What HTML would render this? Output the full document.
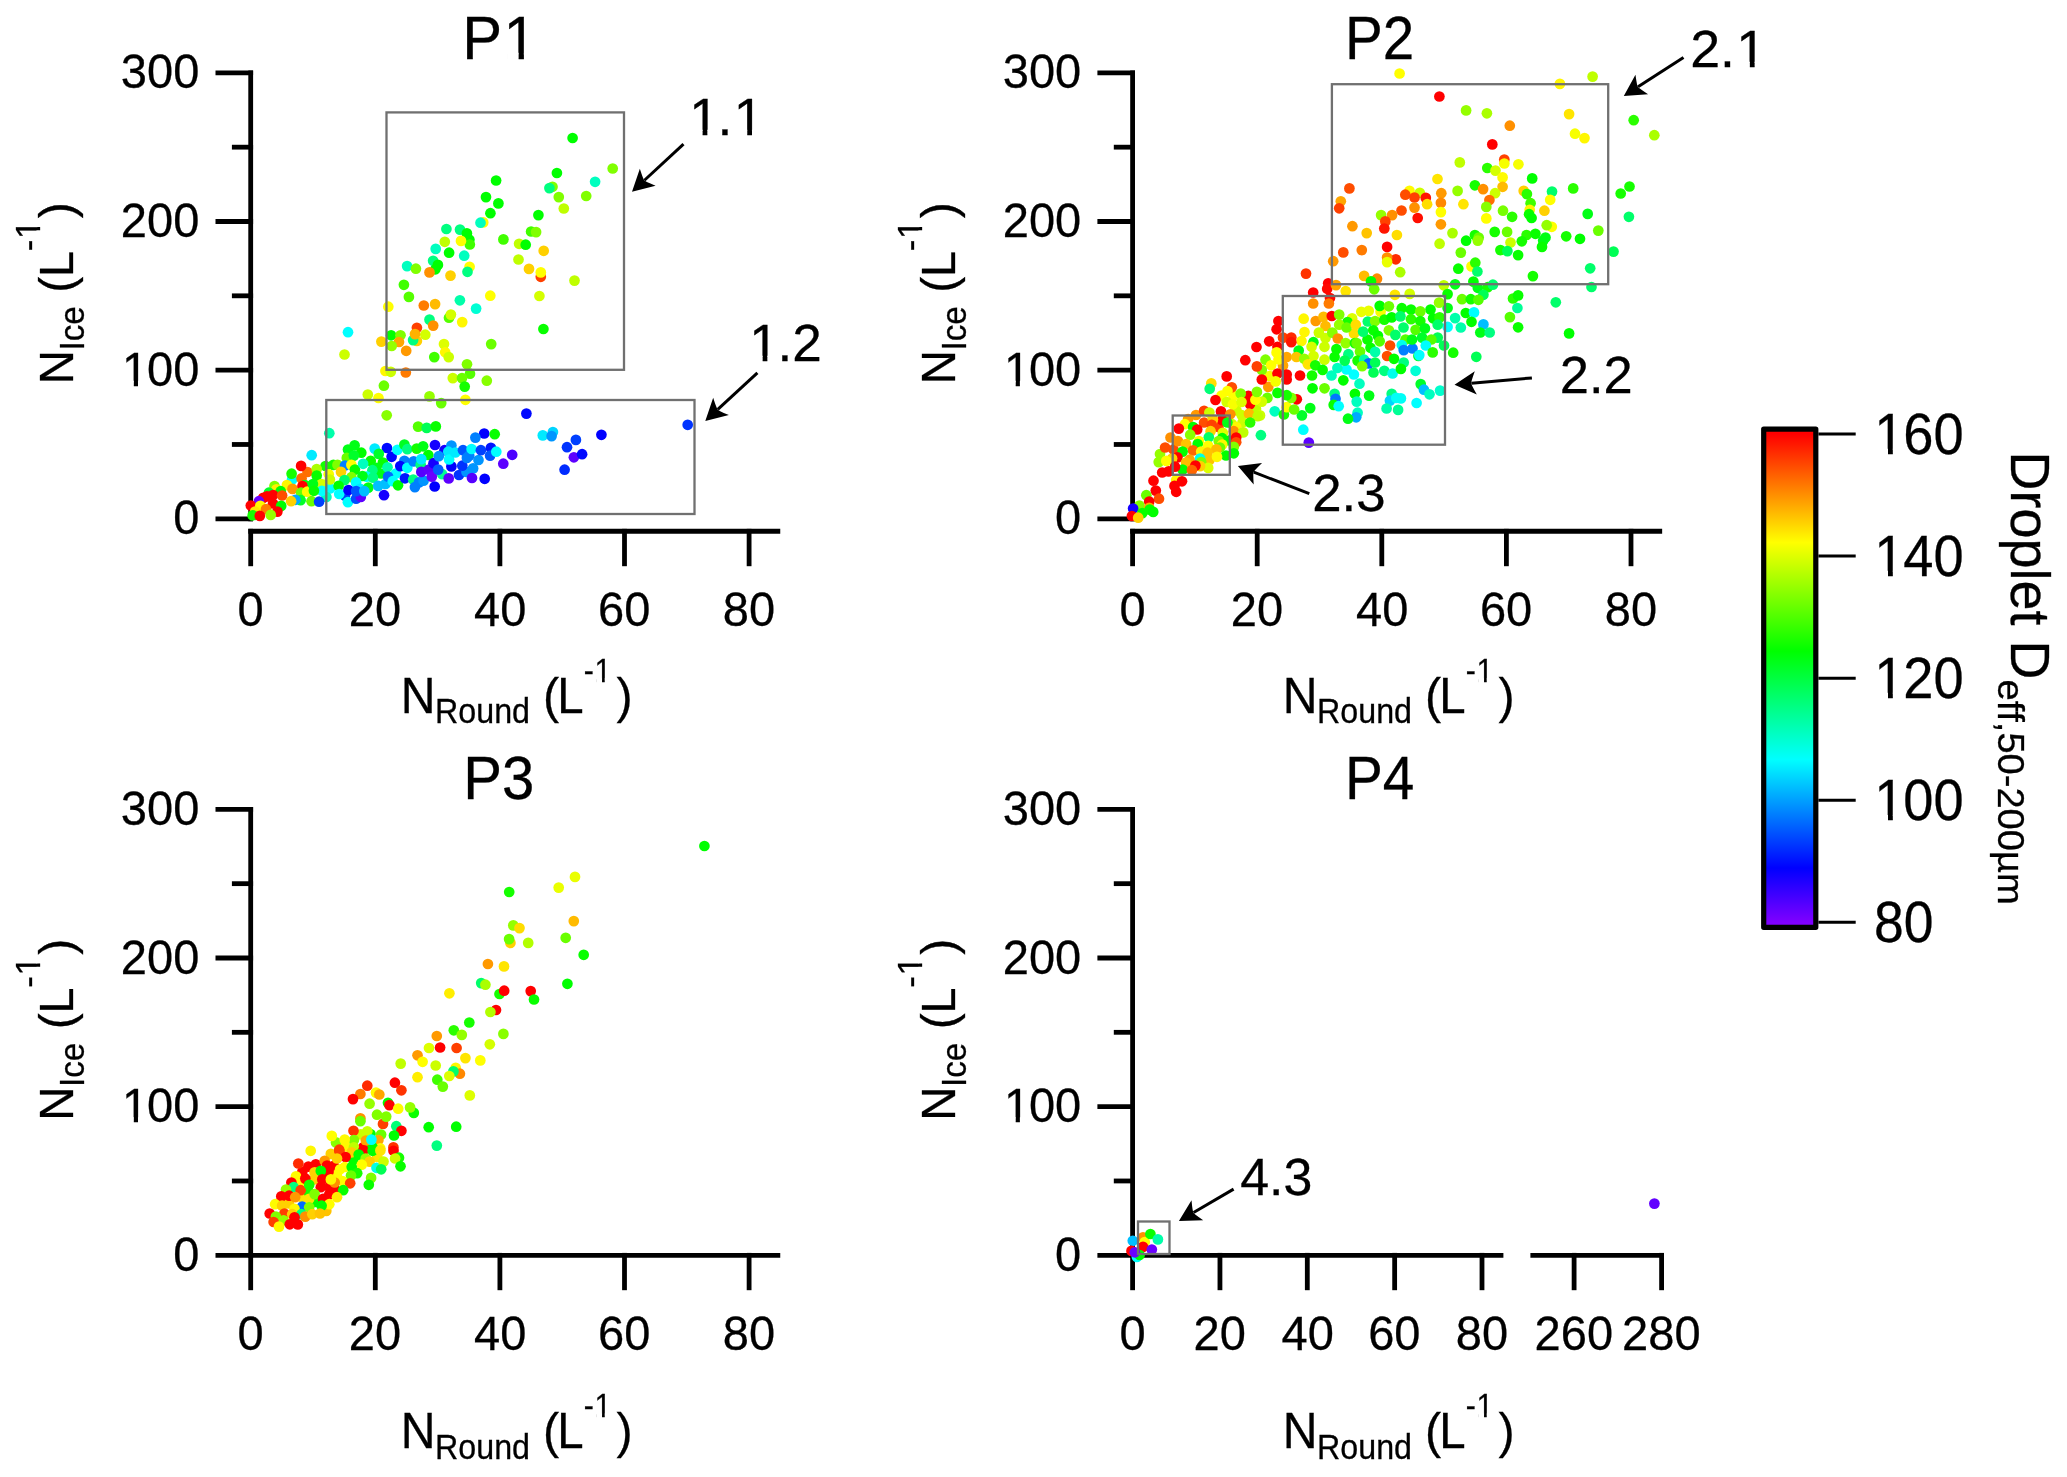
<!DOCTYPE html>
<html><head><meta charset="utf-8"><title>Figure</title>
<style>html,body{margin:0;padding:0;background:#fff;overflow:hidden;} svg{display:block;} svg{will-change:transform;} text{stroke:#000;stroke-width:0.3px;}</style>
</head><body>
<svg width="2067" height="1477" viewBox="0 0 2067 1477" font-family="'Liberation Sans', Arial, sans-serif" fill="#000" style="font-kerning:none"><line x1="250.70" y1="70.45" x2="250.70" y2="521.20" stroke="#000" stroke-width="4.8"/>
<line x1="215.50" y1="518.80" x2="253.10" y2="518.80" stroke="#000" stroke-width="4.8"/>
<text transform="translate(173.18,534.40) scale(0.9800,1)" font-size="48.00">0</text>
<line x1="215.50" y1="370.15" x2="253.10" y2="370.15" stroke="#000" stroke-width="4.8"/>
<clipPath id="c1_1"><path clip-rule="evenodd" d="M-5000,-5000H20000V5000H-5000ZM3.98,-4.89H13.24V4H3.98ZM17.48,-4.89H26.48V4H17.48Z"/></clipPath>
<text transform="translate(120.85,385.75) scale(0.9800,1)" font-size="48.00" clip-path="url(#c1_1)" dx="1.17 -1.17 0.00">100</text>
<line x1="215.50" y1="221.50" x2="253.10" y2="221.50" stroke="#000" stroke-width="4.8"/>
<text transform="translate(120.85,237.10) scale(0.9800,1)" font-size="48.00">200</text>
<line x1="215.50" y1="72.85" x2="253.10" y2="72.85" stroke="#000" stroke-width="4.8"/>
<text transform="translate(120.85,88.45) scale(0.9800,1)" font-size="48.00">300</text>
<line x1="231.90" y1="444.47" x2="253.10" y2="444.47" stroke="#000" stroke-width="4.8"/>
<line x1="231.90" y1="295.82" x2="253.10" y2="295.82" stroke="#000" stroke-width="4.8"/>
<line x1="231.90" y1="147.17" x2="253.10" y2="147.17" stroke="#000" stroke-width="4.8"/>
<line x1="1132.60" y1="70.45" x2="1132.60" y2="521.20" stroke="#000" stroke-width="4.8"/>
<line x1="1097.40" y1="518.80" x2="1135.00" y2="518.80" stroke="#000" stroke-width="4.8"/>
<text transform="translate(1055.08,534.40) scale(0.9800,1)" font-size="48.00">0</text>
<line x1="1097.40" y1="370.15" x2="1135.00" y2="370.15" stroke="#000" stroke-width="4.8"/>
<clipPath id="c1_2"><path clip-rule="evenodd" d="M-5000,-5000H20000V5000H-5000ZM3.98,-4.89H13.24V4H3.98ZM17.48,-4.89H26.48V4H17.48Z"/></clipPath>
<text transform="translate(1002.75,385.75) scale(0.9800,1)" font-size="48.00" clip-path="url(#c1_2)" dx="1.17 -1.17 0.00">100</text>
<line x1="1097.40" y1="221.50" x2="1135.00" y2="221.50" stroke="#000" stroke-width="4.8"/>
<text transform="translate(1002.75,237.10) scale(0.9800,1)" font-size="48.00">200</text>
<line x1="1097.40" y1="72.85" x2="1135.00" y2="72.85" stroke="#000" stroke-width="4.8"/>
<text transform="translate(1002.75,88.45) scale(0.9800,1)" font-size="48.00">300</text>
<line x1="1113.80" y1="444.47" x2="1135.00" y2="444.47" stroke="#000" stroke-width="4.8"/>
<line x1="1113.80" y1="295.82" x2="1135.00" y2="295.82" stroke="#000" stroke-width="4.8"/>
<line x1="1113.80" y1="147.17" x2="1135.00" y2="147.17" stroke="#000" stroke-width="4.8"/>
<line x1="250.70" y1="806.95" x2="250.70" y2="1257.70" stroke="#000" stroke-width="4.8"/>
<line x1="215.50" y1="1255.30" x2="253.10" y2="1255.30" stroke="#000" stroke-width="4.8"/>
<text transform="translate(173.18,1270.90) scale(0.9800,1)" font-size="48.00">0</text>
<line x1="215.50" y1="1106.65" x2="253.10" y2="1106.65" stroke="#000" stroke-width="4.8"/>
<clipPath id="c1_3"><path clip-rule="evenodd" d="M-5000,-5000H20000V5000H-5000ZM3.98,-4.89H13.24V4H3.98ZM17.48,-4.89H26.48V4H17.48Z"/></clipPath>
<text transform="translate(120.85,1122.25) scale(0.9800,1)" font-size="48.00" clip-path="url(#c1_3)" dx="1.17 -1.17 0.00">100</text>
<line x1="215.50" y1="958.00" x2="253.10" y2="958.00" stroke="#000" stroke-width="4.8"/>
<text transform="translate(120.85,973.60) scale(0.9800,1)" font-size="48.00">200</text>
<line x1="215.50" y1="809.35" x2="253.10" y2="809.35" stroke="#000" stroke-width="4.8"/>
<text transform="translate(120.85,824.95) scale(0.9800,1)" font-size="48.00">300</text>
<line x1="231.90" y1="1180.97" x2="253.10" y2="1180.97" stroke="#000" stroke-width="4.8"/>
<line x1="231.90" y1="1032.32" x2="253.10" y2="1032.32" stroke="#000" stroke-width="4.8"/>
<line x1="231.90" y1="883.67" x2="253.10" y2="883.67" stroke="#000" stroke-width="4.8"/>
<line x1="1132.60" y1="806.95" x2="1132.60" y2="1257.70" stroke="#000" stroke-width="4.8"/>
<line x1="1097.40" y1="1255.30" x2="1135.00" y2="1255.30" stroke="#000" stroke-width="4.8"/>
<text transform="translate(1055.08,1270.90) scale(0.9800,1)" font-size="48.00">0</text>
<line x1="1097.40" y1="1106.65" x2="1135.00" y2="1106.65" stroke="#000" stroke-width="4.8"/>
<clipPath id="c1_4"><path clip-rule="evenodd" d="M-5000,-5000H20000V5000H-5000ZM3.98,-4.89H13.24V4H3.98ZM17.48,-4.89H26.48V4H17.48Z"/></clipPath>
<text transform="translate(1002.75,1122.25) scale(0.9800,1)" font-size="48.00" clip-path="url(#c1_4)" dx="1.17 -1.17 0.00">100</text>
<line x1="1097.40" y1="958.00" x2="1135.00" y2="958.00" stroke="#000" stroke-width="4.8"/>
<text transform="translate(1002.75,973.60) scale(0.9800,1)" font-size="48.00">200</text>
<line x1="1097.40" y1="809.35" x2="1135.00" y2="809.35" stroke="#000" stroke-width="4.8"/>
<text transform="translate(1002.75,824.95) scale(0.9800,1)" font-size="48.00">300</text>
<line x1="1113.80" y1="1180.97" x2="1135.00" y2="1180.97" stroke="#000" stroke-width="4.8"/>
<line x1="1113.80" y1="1032.32" x2="1135.00" y2="1032.32" stroke="#000" stroke-width="4.8"/>
<line x1="1113.80" y1="883.67" x2="1135.00" y2="883.67" stroke="#000" stroke-width="4.8"/>
<text transform="translate(72.80,384.28) rotate(-90) scale(0.9645,1)" font-size="49.00">N</text>
<text transform="translate(84.20,350.58) rotate(-90) scale(0.9688,1)" font-size="34.40">Ice</text>
<text transform="translate(72.80,292.68) rotate(-90) scale(0.9800,1)" font-size="49.00">(</text>
<text transform="translate(72.80,276.93) rotate(-90) scale(0.9535,1)" font-size="49.00">L</text>
<clipPath id="c1_5"><path clip-rule="evenodd" d="M-5000,-5000H20000V5000H-5000ZM14.31,-3.87H20.95V4H14.31ZM23.99,-3.87H30.44V4H23.99Z"/></clipPath>
<text transform="translate(40.40,251.35) rotate(-90) scale(1.0108,1)" font-size="34.40" clip-path="url(#c1_5)" dx="0.00 0.84">-1</text>
<text transform="translate(72.80,218.18) rotate(-90) scale(0.9800,1)" font-size="49.00">)</text>
<text transform="translate(954.70,384.28) rotate(-90) scale(0.9645,1)" font-size="49.00">N</text>
<text transform="translate(966.10,350.58) rotate(-90) scale(0.9688,1)" font-size="34.40">Ice</text>
<text transform="translate(954.70,292.68) rotate(-90) scale(0.9800,1)" font-size="49.00">(</text>
<text transform="translate(954.70,276.93) rotate(-90) scale(0.9535,1)" font-size="49.00">L</text>
<clipPath id="c1_6"><path clip-rule="evenodd" d="M-5000,-5000H20000V5000H-5000ZM14.31,-3.87H20.95V4H14.31ZM23.99,-3.87H30.44V4H23.99Z"/></clipPath>
<text transform="translate(922.30,251.35) rotate(-90) scale(1.0108,1)" font-size="34.40" clip-path="url(#c1_6)" dx="0.00 0.84">-1</text>
<text transform="translate(954.70,218.18) rotate(-90) scale(0.9800,1)" font-size="49.00">)</text>
<text transform="translate(72.80,1120.78) rotate(-90) scale(0.9645,1)" font-size="49.00">N</text>
<text transform="translate(84.20,1087.08) rotate(-90) scale(0.9688,1)" font-size="34.40">Ice</text>
<text transform="translate(72.80,1029.18) rotate(-90) scale(0.9800,1)" font-size="49.00">(</text>
<text transform="translate(72.80,1013.43) rotate(-90) scale(0.9535,1)" font-size="49.00">L</text>
<clipPath id="c1_7"><path clip-rule="evenodd" d="M-5000,-5000H20000V5000H-5000ZM14.31,-3.87H20.95V4H14.31ZM23.99,-3.87H30.44V4H23.99Z"/></clipPath>
<text transform="translate(40.40,987.85) rotate(-90) scale(1.0108,1)" font-size="34.40" clip-path="url(#c1_7)" dx="0.00 0.84">-1</text>
<text transform="translate(72.80,954.68) rotate(-90) scale(0.9800,1)" font-size="49.00">)</text>
<text transform="translate(954.70,1120.78) rotate(-90) scale(0.9645,1)" font-size="49.00">N</text>
<text transform="translate(966.10,1087.08) rotate(-90) scale(0.9688,1)" font-size="34.40">Ice</text>
<text transform="translate(954.70,1029.18) rotate(-90) scale(0.9800,1)" font-size="49.00">(</text>
<text transform="translate(954.70,1013.43) rotate(-90) scale(0.9535,1)" font-size="49.00">L</text>
<clipPath id="c1_8"><path clip-rule="evenodd" d="M-5000,-5000H20000V5000H-5000ZM14.31,-3.87H20.95V4H14.31ZM23.99,-3.87H30.44V4H23.99Z"/></clipPath>
<text transform="translate(922.30,987.85) rotate(-90) scale(1.0108,1)" font-size="34.40" clip-path="url(#c1_8)" dx="0.00 0.84">-1</text>
<text transform="translate(954.70,954.68) rotate(-90) scale(0.9800,1)" font-size="49.00">)</text>
<clipPath id="c1_9"><path clip-rule="evenodd" d="M-5000,-5000H20000V5000H-5000ZM45.67,-5.85H57.42V4H45.67ZM62.80,-5.85H74.22V4H62.80Z"/></clipPath>
<text transform="translate(462.30,58.50) scale(0.9808,1)" font-size="60.90" clip-path="url(#c1_9)" dx="0.00 1.49">P1</text>
<text transform="translate(1344.96,58.50) scale(0.9288,1)" font-size="60.90">P2</text>
<text transform="translate(463.34,798.80) scale(0.9533,1)" font-size="60.90">P3</text>
<text transform="translate(1344.94,798.80) scale(0.9319,1)" font-size="60.90">P4</text>
<line x1="248.30" y1="531.25" x2="780.25" y2="531.25" stroke="#000" stroke-width="4.8"/>
<line x1="250.70" y1="528.85" x2="250.70" y2="566.20" stroke="#000" stroke-width="4.8"/>
<text transform="translate(237.62,626.10) scale(0.9800,1)" font-size="48.00">0</text>
<line x1="375.30" y1="528.85" x2="375.30" y2="566.20" stroke="#000" stroke-width="4.8"/>
<text transform="translate(348.87,626.10) scale(0.9800,1)" font-size="48.00">20</text>
<line x1="499.90" y1="528.85" x2="499.90" y2="566.20" stroke="#000" stroke-width="4.8"/>
<text transform="translate(474.12,626.10) scale(0.9800,1)" font-size="48.00">40</text>
<line x1="624.50" y1="528.85" x2="624.50" y2="566.20" stroke="#000" stroke-width="4.8"/>
<text transform="translate(598.06,626.10) scale(0.9800,1)" font-size="48.00">60</text>
<line x1="749.10" y1="528.85" x2="749.10" y2="566.20" stroke="#000" stroke-width="4.8"/>
<text transform="translate(722.84,626.10) scale(0.9800,1)" font-size="48.00">80</text>
<line x1="1130.20" y1="531.25" x2="1662.15" y2="531.25" stroke="#000" stroke-width="4.8"/>
<line x1="1132.60" y1="528.85" x2="1132.60" y2="566.20" stroke="#000" stroke-width="4.8"/>
<text transform="translate(1119.52,626.10) scale(0.9800,1)" font-size="48.00">0</text>
<line x1="1257.20" y1="528.85" x2="1257.20" y2="566.20" stroke="#000" stroke-width="4.8"/>
<text transform="translate(1230.77,626.10) scale(0.9800,1)" font-size="48.00">20</text>
<line x1="1381.80" y1="528.85" x2="1381.80" y2="566.20" stroke="#000" stroke-width="4.8"/>
<text transform="translate(1356.02,626.10) scale(0.9800,1)" font-size="48.00">40</text>
<line x1="1506.40" y1="528.85" x2="1506.40" y2="566.20" stroke="#000" stroke-width="4.8"/>
<text transform="translate(1479.96,626.10) scale(0.9800,1)" font-size="48.00">60</text>
<line x1="1631.00" y1="528.85" x2="1631.00" y2="566.20" stroke="#000" stroke-width="4.8"/>
<text transform="translate(1604.74,626.10) scale(0.9800,1)" font-size="48.00">80</text>
<text transform="translate(400.85,712.60) scale(0.9748,1)" font-size="49.40">N</text>
<text transform="translate(435.06,723.30) scale(0.9364,1)" font-size="34.40">Round</text>
<text transform="translate(543.00,712.60) scale(0.9800,1)" font-size="49.40">(</text>
<text transform="translate(557.21,712.60) scale(0.9595,1)" font-size="49.40">L</text>
<clipPath id="c1_10"><path clip-rule="evenodd" d="M-5000,-5000H20000V5000H-5000ZM13.89,-3.80H20.34V4H13.89ZM23.29,-3.80H29.55V4H23.29Z"/></clipPath>
<text transform="translate(583.66,682.00) scale(0.9035,1)" font-size="33.40" clip-path="url(#c1_10)" dx="0.00 0.82">-1</text>
<text transform="translate(616.52,712.60) scale(0.9800,1)" font-size="49.40">)</text>
<text transform="translate(1282.85,712.60) scale(0.9748,1)" font-size="49.40">N</text>
<text transform="translate(1317.06,723.30) scale(0.9364,1)" font-size="34.40">Round</text>
<text transform="translate(1425.00,712.60) scale(0.9800,1)" font-size="49.40">(</text>
<text transform="translate(1439.21,712.60) scale(0.9595,1)" font-size="49.40">L</text>
<clipPath id="c1_11"><path clip-rule="evenodd" d="M-5000,-5000H20000V5000H-5000ZM13.89,-3.80H20.34V4H13.89ZM23.29,-3.80H29.55V4H23.29Z"/></clipPath>
<text transform="translate(1465.66,682.00) scale(0.9035,1)" font-size="33.40" clip-path="url(#c1_11)" dx="0.00 0.82">-1</text>
<text transform="translate(1498.52,712.60) scale(0.9800,1)" font-size="49.40">)</text>
<line x1="248.30" y1="1255.30" x2="780.25" y2="1255.30" stroke="#000" stroke-width="4.8"/>
<line x1="250.70" y1="1252.90" x2="250.70" y2="1290.20" stroke="#000" stroke-width="4.8"/>
<text transform="translate(237.62,1350.20) scale(0.9800,1)" font-size="48.00">0</text>
<line x1="375.30" y1="1252.90" x2="375.30" y2="1290.20" stroke="#000" stroke-width="4.8"/>
<text transform="translate(348.87,1350.20) scale(0.9800,1)" font-size="48.00">20</text>
<line x1="499.90" y1="1252.90" x2="499.90" y2="1290.20" stroke="#000" stroke-width="4.8"/>
<text transform="translate(474.12,1350.20) scale(0.9800,1)" font-size="48.00">40</text>
<line x1="624.50" y1="1252.90" x2="624.50" y2="1290.20" stroke="#000" stroke-width="4.8"/>
<text transform="translate(598.06,1350.20) scale(0.9800,1)" font-size="48.00">60</text>
<line x1="749.10" y1="1252.90" x2="749.10" y2="1290.20" stroke="#000" stroke-width="4.8"/>
<text transform="translate(722.84,1350.20) scale(0.9800,1)" font-size="48.00">80</text>
<text transform="translate(400.85,1447.80) scale(0.9748,1)" font-size="49.40">N</text>
<text transform="translate(435.06,1458.50) scale(0.9364,1)" font-size="34.40">Round</text>
<text transform="translate(543.00,1447.80) scale(0.9800,1)" font-size="49.40">(</text>
<text transform="translate(557.21,1447.80) scale(0.9595,1)" font-size="49.40">L</text>
<clipPath id="c1_12"><path clip-rule="evenodd" d="M-5000,-5000H20000V5000H-5000ZM13.89,-3.80H20.34V4H13.89ZM23.29,-3.80H29.55V4H23.29Z"/></clipPath>
<text transform="translate(583.66,1417.20) scale(0.9035,1)" font-size="33.40" clip-path="url(#c1_12)" dx="0.00 0.82">-1</text>
<text transform="translate(616.52,1447.80) scale(0.9800,1)" font-size="49.40">)</text>
<line x1="1130.20" y1="1255.30" x2="1503.40" y2="1255.30" stroke="#000" stroke-width="4.8"/>
<line x1="1132.60" y1="1252.90" x2="1132.60" y2="1290.20" stroke="#000" stroke-width="4.8"/>
<text transform="translate(1119.52,1350.20) scale(0.9800,1)" font-size="48.00">0</text>
<line x1="1219.95" y1="1252.90" x2="1219.95" y2="1290.20" stroke="#000" stroke-width="4.8"/>
<text transform="translate(1193.52,1350.20) scale(0.9800,1)" font-size="48.00">20</text>
<line x1="1307.30" y1="1252.90" x2="1307.30" y2="1290.20" stroke="#000" stroke-width="4.8"/>
<text transform="translate(1281.52,1350.20) scale(0.9800,1)" font-size="48.00">40</text>
<line x1="1394.65" y1="1252.90" x2="1394.65" y2="1290.20" stroke="#000" stroke-width="4.8"/>
<text transform="translate(1368.21,1350.20) scale(0.9800,1)" font-size="48.00">60</text>
<line x1="1482.00" y1="1252.90" x2="1482.00" y2="1290.20" stroke="#000" stroke-width="4.8"/>
<text transform="translate(1455.74,1350.20) scale(0.9800,1)" font-size="48.00">80</text>
<line x1="1530.40" y1="1255.30" x2="1664.00" y2="1255.30" stroke="#000" stroke-width="4.8"/>
<line x1="1574.10" y1="1252.90" x2="1574.10" y2="1290.20" stroke="#000" stroke-width="4.8"/>
<text transform="translate(1534.59,1350.20) scale(0.9800,1)" font-size="48.00">260</text>
<line x1="1661.60" y1="1252.90" x2="1661.60" y2="1290.20" stroke="#000" stroke-width="4.8"/>
<text transform="translate(1622.09,1350.20) scale(0.9800,1)" font-size="48.00">280</text>
<text transform="translate(1282.85,1447.80) scale(0.9748,1)" font-size="49.40">N</text>
<text transform="translate(1317.06,1458.50) scale(0.9364,1)" font-size="34.40">Round</text>
<text transform="translate(1425.00,1447.80) scale(0.9800,1)" font-size="49.40">(</text>
<text transform="translate(1439.21,1447.80) scale(0.9595,1)" font-size="49.40">L</text>
<clipPath id="c1_13"><path clip-rule="evenodd" d="M-5000,-5000H20000V5000H-5000ZM13.89,-3.80H20.34V4H13.89ZM23.29,-3.80H29.55V4H23.29Z"/></clipPath>
<text transform="translate(1465.66,1417.20) scale(0.9035,1)" font-size="33.40" clip-path="url(#c1_13)" dx="0.00 0.82">-1</text>
<text transform="translate(1498.52,1447.80) scale(0.9800,1)" font-size="49.40">)</text>
<line x1="683.50" y1="144.20" x2="644.48" y2="180.26" stroke="#000" stroke-width="3.0"/>
<path d="M632.00,191.80 L639.84,168.76 Q643.75,180.94 644.48,180.26 Q643.75,180.94 655.59,185.79 Z" fill="#000"/>
<line x1="757.40" y1="372.90" x2="717.80" y2="409.38" stroke="#000" stroke-width="3.0"/>
<path d="M705.30,420.90 L713.18,397.87 Q717.07,410.06 717.80,409.38 Q717.07,410.06 728.90,414.93 Z" fill="#000"/>
<line x1="1683.50" y1="57.40" x2="1638.06" y2="86.85" stroke="#000" stroke-width="3.0"/>
<path d="M1623.80,96.10 L1635.45,74.73 Q1637.23,87.40 1638.06,86.85 Q1637.23,87.40 1648.07,94.19 Z" fill="#000"/>
<line x1="1531.90" y1="377.90" x2="1471.43" y2="383.21" stroke="#000" stroke-width="3.0"/>
<path d="M1454.50,384.70 L1474.80,371.27 Q1470.44,383.30 1471.43,383.21 Q1470.44,383.30 1476.83,394.38 Z" fill="#000"/>
<line x1="1309.30" y1="493.60" x2="1253.76" y2="472.21" stroke="#000" stroke-width="3.0"/>
<path d="M1237.90,466.10 L1262.04,462.97 Q1252.83,471.85 1253.76,472.21 Q1252.83,471.85 1253.70,484.62 Z" fill="#000"/>
<line x1="1233.60" y1="1189.10" x2="1193.57" y2="1212.52" stroke="#000" stroke-width="3.0"/>
<path d="M1178.90,1221.10 L1191.51,1200.28 Q1192.71,1213.02 1193.57,1212.52 Q1192.71,1213.02 1203.23,1220.31 Z" fill="#000"/>
<clipPath id="c1_14"><path clip-rule="evenodd" d="M-5000,-5000H20000V5000H-5000ZM4.31,-5.18H14.32V4H4.31ZM18.90,-5.18H28.64V4H18.90ZM47.59,-5.18H57.60V4H47.59ZM62.19,-5.18H71.92V4H62.19Z"/></clipPath>
<text transform="translate(687.84,134.90) scale(1.0317,1)" font-size="51.90" clip-path="url(#c1_14)" dx="1.27 -1.27 1.27">1.1</text>
<clipPath id="c1_15"><path clip-rule="evenodd" d="M-5000,-5000H20000V5000H-5000ZM4.31,-5.18H14.32V4H4.31ZM18.90,-5.18H28.64V4H18.90Z"/></clipPath>
<text transform="translate(747.99,361.00) scale(1.0240,1)" font-size="51.90" clip-path="url(#c1_15)" dx="1.27 -1.27 0.00">1.2</text>
<clipPath id="c1_16"><path clip-rule="evenodd" d="M-5000,-5000H20000V5000H-5000ZM47.59,-5.18H57.60V4H47.59ZM62.19,-5.18H71.92V4H62.19Z"/></clipPath>
<text transform="translate(1690.20,66.90) scale(1.0356,1)" font-size="51.90" clip-path="url(#c1_16)" dx="0.00 0.00 1.27">2.1</text>
<text transform="translate(1559.76,392.50) scale(1.0115,1)" font-size="51.90">2.2</text>
<text transform="translate(1312.25,511.30) scale(1.0170,1)" font-size="51.90">2.3</text>
<text transform="translate(1240.21,1195.00) scale(1.0003,1)" font-size="51.90">4.3</text>
<defs><linearGradient id="cb" gradientUnits="userSpaceOnUse" x1="0" y1="434" x2="0" y2="922.3"><stop offset="0.0000" stop-color="rgb(255,0,0)"/><stop offset="0.2222" stop-color="rgb(255,255,0)"/><stop offset="0.4444" stop-color="rgb(0,255,0)"/><stop offset="0.6667" stop-color="rgb(0,255,255)"/><stop offset="0.8889" stop-color="rgb(0,0,255)"/><stop offset="1.0000" stop-color="rgb(127,0,255)"/></linearGradient></defs>
<rect x="1763.70" y="429.10" width="52.10" height="498.20" fill="url(#cb)" stroke="#000" stroke-width="5.2" stroke-linejoin="round"/>
<line x1="1818.40" y1="434.00" x2="1855.70" y2="434.00" stroke="#000" stroke-width="3.0"/>
<clipPath id="c1_17"><path clip-rule="evenodd" d="M-5000,-5000H20000V5000H-5000ZM4.70,-5.53H15.61V4H4.70ZM20.62,-5.53H31.23V4H20.62Z"/></clipPath>
<text transform="translate(1873.06,454.20) scale(0.9579,1)" font-size="56.60" clip-path="url(#c1_17)" dx="1.38 -1.38 0.00">160</text>
<line x1="1818.40" y1="556.07" x2="1855.70" y2="556.07" stroke="#000" stroke-width="3.0"/>
<clipPath id="c1_18"><path clip-rule="evenodd" d="M-5000,-5000H20000V5000H-5000ZM4.70,-5.53H15.61V4H4.70ZM20.62,-5.53H31.23V4H20.62Z"/></clipPath>
<text transform="translate(1873.06,576.27) scale(0.9579,1)" font-size="56.60" clip-path="url(#c1_18)" dx="1.38 -1.38 0.00">140</text>
<line x1="1818.40" y1="678.14" x2="1855.70" y2="678.14" stroke="#000" stroke-width="3.0"/>
<clipPath id="c1_19"><path clip-rule="evenodd" d="M-5000,-5000H20000V5000H-5000ZM4.70,-5.53H15.61V4H4.70ZM20.62,-5.53H31.23V4H20.62Z"/></clipPath>
<text transform="translate(1873.06,698.34) scale(0.9579,1)" font-size="56.60" clip-path="url(#c1_19)" dx="1.38 -1.38 0.00">120</text>
<line x1="1818.40" y1="800.21" x2="1855.70" y2="800.21" stroke="#000" stroke-width="3.0"/>
<clipPath id="c1_20"><path clip-rule="evenodd" d="M-5000,-5000H20000V5000H-5000ZM4.70,-5.53H15.61V4H4.70ZM20.62,-5.53H31.23V4H20.62Z"/></clipPath>
<text transform="translate(1873.06,820.41) scale(0.9579,1)" font-size="56.60" clip-path="url(#c1_20)" dx="1.38 -1.38 0.00">100</text>
<line x1="1818.40" y1="922.28" x2="1855.70" y2="922.28" stroke="#000" stroke-width="3.0"/>
<text transform="translate(1873.97,942.48) scale(0.9453,1)" font-size="56.60">80</text>
<text transform="translate(2010.80,451.47) rotate(90) scale(0.9798,1)" font-size="55.10">Droplet D</text>
<text transform="translate(1997.60,679.48) rotate(90) scale(1.0131,1)" font-size="37.60">eff,50-200µm</text>
<g><circle cx="435.0" cy="445.0" r="5.35" fill="#1500ff"/><circle cx="478.5" cy="460.0" r="5.35" fill="#0095ff"/><circle cx="387.0" cy="448.0" r="5.35" fill="#0008ff"/><circle cx="459.0" cy="475.0" r="5.35" fill="#0033ff"/><circle cx="307.5" cy="472.0" r="5.35" fill="#ff6e00"/><circle cx="273.0" cy="503.5" r="5.35" fill="#ff0000"/><circle cx="330.0" cy="488.5" r="5.35" fill="#00ffff"/><circle cx="396.0" cy="473.5" r="5.35" fill="#00ffff"/><circle cx="325.5" cy="466.0" r="5.35" fill="#15ff00"/><circle cx="348.0" cy="449.5" r="5.35" fill="#00ff15"/><circle cx="381.0" cy="473.5" r="5.35" fill="#00ff15"/><circle cx="385.5" cy="484.0" r="5.35" fill="#00bfff"/><circle cx="466.5" cy="472.0" r="5.35" fill="#0095ff"/><circle cx="1283.0" cy="365.5" r="5.35" fill="#ffa600"/><circle cx="1196.0" cy="415.0" r="5.35" fill="#ff9900"/><circle cx="1173.5" cy="449.5" r="5.35" fill="#ff4d00"/><circle cx="1170.5" cy="437.5" r="5.35" fill="#ff9000"/><circle cx="1269.5" cy="376.0" r="5.35" fill="#f7ff00"/><circle cx="1160.0" cy="454.0" r="5.35" fill="#95ff00"/><circle cx="1226.0" cy="455.5" r="5.35" fill="#00ff00"/><circle cx="1209.5" cy="460.0" r="5.35" fill="#ffc300"/><circle cx="1221.5" cy="395.5" r="5.35" fill="#ffff00"/><circle cx="1233.5" cy="395.5" r="5.35" fill="#ffff00"/><circle cx="1278.5" cy="359.5" r="5.35" fill="#ffff00"/><circle cx="1242.5" cy="422.5" r="5.35" fill="#ccff00"/><circle cx="1256.0" cy="409.0" r="5.35" fill="#bfff00"/><circle cx="1229.0" cy="440.5" r="5.35" fill="#00ff00"/><circle cx="1218.5" cy="427.0" r="5.35" fill="#ff4000"/><circle cx="1236.5" cy="410.5" r="5.35" fill="#ccff00"/><circle cx="297.8" cy="1224.4" r="5.35" fill="#ff0000"/><circle cx="315.8" cy="1164.4" r="5.35" fill="#ff0000"/><circle cx="330.8" cy="1153.9" r="5.35" fill="#ffd000"/><circle cx="302.3" cy="1171.9" r="5.35" fill="#ff0000"/><circle cx="353.3" cy="1159.9" r="5.35" fill="#00ff00"/><circle cx="360.8" cy="1134.4" r="5.35" fill="#ccff00"/><circle cx="377.3" cy="1156.9" r="5.35" fill="#ffe500"/><circle cx="329.3" cy="1194.4" r="5.35" fill="#ff0000"/><circle cx="288.8" cy="1203.4" r="5.35" fill="#ffd000"/><circle cx="302.3" cy="1197.4" r="5.35" fill="#ffe500"/><circle cx="314.3" cy="1179.4" r="5.35" fill="#ffd000"/><circle cx="299.3" cy="1182.4" r="5.35" fill="#fffb00"/><circle cx="315.8" cy="1201.9" r="5.35" fill="#00ff00"/><circle cx="345.8" cy="1146.4" r="5.35" fill="#fffb00"/><circle cx="326.3" cy="1210.9" r="5.35" fill="#ffc300"/><circle cx="333.8" cy="1165.9" r="5.35" fill="#ff0000"/><circle cx="308.3" cy="1191.4" r="5.35" fill="#15ff00"/><circle cx="335.3" cy="1189.9" r="5.35" fill="#ff0000"/><circle cx="336.8" cy="1174.9" r="5.35" fill="#ffff00"/><circle cx="1300.0" cy="375.5" r="5.35" fill="#ff0000"/><circle cx="1304.5" cy="332.0" r="5.35" fill="#fff700"/><circle cx="1403.5" cy="327.5" r="5.35" fill="#00ff6a"/><circle cx="1390.0" cy="345.5" r="5.35" fill="#ff4d00"/><circle cx="1312.0" cy="375.5" r="5.35" fill="#15ff00"/><circle cx="1373.5" cy="372.5" r="5.35" fill="#00ff55"/><circle cx="1444.0" cy="345.5" r="5.35" fill="#00ff55"/><circle cx="1331.5" cy="375.5" r="5.35" fill="#00ffbf"/><circle cx="1301.5" cy="341.0" r="5.35" fill="#fff700"/><circle cx="1313.5" cy="356.0" r="5.35" fill="#d4ff00"/><circle cx="1325.5" cy="326.0" r="5.35" fill="#ffbb00"/><circle cx="1411.0" cy="309.5" r="5.35" fill="#08ff00"/><circle cx="1430.5" cy="309.5" r="5.35" fill="#00ff00"/><circle cx="1360.0" cy="351.5" r="5.35" fill="#6aff00"/><circle cx="1354.0" cy="333.5" r="5.35" fill="#ffdd00"/><circle cx="1412.5" cy="348.5" r="5.35" fill="#0080ff"/><circle cx="1346.5" cy="369.5" r="5.35" fill="#00ffff"/><circle cx="1367.5" cy="339.5" r="5.35" fill="#08ff00"/><circle cx="1325.5" cy="338.0" r="5.35" fill="#ccff00"/><circle cx="572.6" cy="138.0" r="5.35" fill="#00ff00"/><circle cx="612.7" cy="168.5" r="5.35" fill="#80ff00"/><circle cx="556.9" cy="173.0" r="5.35" fill="#00ff00"/><circle cx="595.1" cy="181.8" r="5.35" fill="#00ffbf"/><circle cx="552.5" cy="186.8" r="5.35" fill="#80ff00"/><circle cx="549.4" cy="188.1" r="5.35" fill="#00ff80"/><circle cx="558.8" cy="197.1" r="5.35" fill="#80ff00"/><circle cx="586.2" cy="196.0" r="5.35" fill="#80ff00"/><circle cx="563.8" cy="208.5" r="5.35" fill="#bfff00"/><circle cx="496.1" cy="180.5" r="5.35" fill="#00ff00"/><circle cx="486.0" cy="197.1" r="5.35" fill="#00ff00"/><circle cx="498.4" cy="203.4" r="5.35" fill="#00ff00"/><circle cx="490.4" cy="213.2" r="5.35" fill="#00ff00"/><circle cx="483.2" cy="222.4" r="5.35" fill="#ffff00"/><circle cx="480.5" cy="222.7" r="5.35" fill="#00ffbf"/><circle cx="538.4" cy="215.1" r="5.35" fill="#00ff00"/><circle cx="531.1" cy="231.5" r="5.35" fill="#40ff00"/><circle cx="536.1" cy="232.1" r="5.35" fill="#80ff00"/><circle cx="503.4" cy="239.4" r="5.35" fill="#40ff00"/><circle cx="519.1" cy="243.8" r="5.35" fill="#bfff00"/><circle cx="525.7" cy="244.7" r="5.35" fill="#00ff00"/><circle cx="543.7" cy="250.8" r="5.35" fill="#ffd000"/><circle cx="518.5" cy="259.5" r="5.35" fill="#bfff00"/><circle cx="529.0" cy="268.9" r="5.35" fill="#ffd000"/><circle cx="540.8" cy="276.8" r="5.35" fill="#ff4000"/><circle cx="540.8" cy="272.4" r="5.35" fill="#ffff00"/><circle cx="574.5" cy="280.6" r="5.35" fill="#bfff00"/><circle cx="446.4" cy="229.0" r="5.35" fill="#00ff80"/><circle cx="460.0" cy="229.6" r="5.35" fill="#00ff80"/><circle cx="466.9" cy="233.4" r="5.35" fill="#00ff00"/><circle cx="469.4" cy="239.7" r="5.35" fill="#00ff00"/><circle cx="469.8" cy="244.5" r="5.35" fill="#40ff00"/><circle cx="444.8" cy="241.8" r="5.35" fill="#bfff00"/><circle cx="461.0" cy="240.9" r="5.35" fill="#ffff00"/><circle cx="435.7" cy="248.9" r="5.35" fill="#00ffbf"/><circle cx="449.1" cy="252.7" r="5.35" fill="#00ff00"/><circle cx="464.2" cy="255.7" r="5.35" fill="#00ffbf"/><circle cx="407.1" cy="266.1" r="5.35" fill="#00ffbf"/><circle cx="415.9" cy="268.7" r="5.35" fill="#80ff00"/><circle cx="433.1" cy="260.8" r="5.35" fill="#00ff80"/><circle cx="437.9" cy="264.9" r="5.35" fill="#00ff00"/><circle cx="435.4" cy="269.3" r="5.35" fill="#00ff00"/><circle cx="429.5" cy="272.4" r="5.35" fill="#ff9000"/><circle cx="450.5" cy="275.6" r="5.35" fill="#ffd000"/><circle cx="469.6" cy="266.8" r="5.35" fill="#ffff00"/><circle cx="467.5" cy="271.8" r="5.35" fill="#00ff80"/><circle cx="403.9" cy="284.8" r="5.35" fill="#40ff00"/><circle cx="408.9" cy="296.9" r="5.35" fill="#55ff00"/><circle cx="490.3" cy="295.7" r="5.35" fill="#ffff00"/><circle cx="539.4" cy="296.0" r="5.35" fill="#d4ff00"/><circle cx="459.9" cy="300.3" r="5.35" fill="#00ffaa"/><circle cx="388.3" cy="306.7" r="5.35" fill="#ffff00"/><circle cx="423.8" cy="305.5" r="5.35" fill="#ff7b00"/><circle cx="435.1" cy="304.1" r="5.35" fill="#ffbb00"/><circle cx="476.1" cy="308.6" r="5.35" fill="#00ffd4"/><circle cx="348.0" cy="332.2" r="5.35" fill="#00ffff"/><circle cx="449.0" cy="317.7" r="5.35" fill="#55ff00"/><circle cx="450.9" cy="314.6" r="5.35" fill="#d4ff00"/><circle cx="429.5" cy="319.6" r="5.35" fill="#00ff80"/><circle cx="433.2" cy="325.6" r="5.35" fill="#ff9000"/><circle cx="462.2" cy="322.1" r="5.35" fill="#fff700"/><circle cx="416.9" cy="327.8" r="5.35" fill="#ff4000"/><circle cx="425.3" cy="334.7" r="5.35" fill="#d4ff00"/><circle cx="391.1" cy="335.3" r="5.35" fill="#00ff00"/><circle cx="400.5" cy="335.3" r="5.35" fill="#80ff00"/><circle cx="381.4" cy="341.6" r="5.35" fill="#ffd000"/><circle cx="416.9" cy="341.0" r="5.35" fill="#ffd000"/><circle cx="413.1" cy="340.1" r="5.35" fill="#00ff80"/><circle cx="415.0" cy="334.1" r="5.35" fill="#ffb200"/><circle cx="399.0" cy="342.0" r="5.35" fill="#ffa600"/><circle cx="391.7" cy="346.0" r="5.35" fill="#95ff00"/><circle cx="406.2" cy="350.8" r="5.35" fill="#ff9900"/><circle cx="344.5" cy="354.5" r="5.35" fill="#ccff00"/><circle cx="444.0" cy="344.1" r="5.35" fill="#ddff00"/><circle cx="445.2" cy="352.3" r="5.35" fill="#fff700"/><circle cx="448.7" cy="357.1" r="5.35" fill="#ccff00"/><circle cx="434.3" cy="357.1" r="5.35" fill="#40ff00"/><circle cx="491.2" cy="344.1" r="5.35" fill="#6aff00"/><circle cx="543.4" cy="329.0" r="5.35" fill="#08ff00"/><circle cx="467.0" cy="364.3" r="5.35" fill="#80ff00"/><circle cx="385.4" cy="371.0" r="5.35" fill="#fff700"/><circle cx="390.8" cy="371.8" r="5.35" fill="#ccff00"/><circle cx="405.8" cy="372.5" r="5.35" fill="#ff7b00"/><circle cx="470.0" cy="373.7" r="5.35" fill="#55ff00"/><circle cx="452.8" cy="378.1" r="5.35" fill="#ccff00"/><circle cx="462.0" cy="378.1" r="5.35" fill="#6aff00"/><circle cx="464.7" cy="386.6" r="5.35" fill="#15ff00"/><circle cx="486.8" cy="380.7" r="5.35" fill="#88ff00"/><circle cx="383.9" cy="385.7" r="5.35" fill="#6aff00"/><circle cx="367.8" cy="394.5" r="5.35" fill="#ccff00"/><circle cx="378.5" cy="398.0" r="5.35" fill="#ffff00"/><circle cx="429.5" cy="396.4" r="5.35" fill="#95ff00"/><circle cx="441.2" cy="403.1" r="5.35" fill="#6aff00"/><circle cx="465.4" cy="399.8" r="5.35" fill="#ffff00"/><circle cx="386.7" cy="415.3" r="5.35" fill="#88ff00"/><circle cx="526.4" cy="413.6" r="5.35" fill="#0008ff"/><circle cx="418.1" cy="426.6" r="5.35" fill="#55ff00"/><circle cx="426.7" cy="427.9" r="5.35" fill="#00ff55"/><circle cx="435.8" cy="426.4" r="5.35" fill="#08ff00"/><circle cx="484.2" cy="433.5" r="5.35" fill="#0000ff"/><circle cx="494.7" cy="434.2" r="5.35" fill="#08ff00"/><circle cx="475.4" cy="437.6" r="5.35" fill="#0080ff"/><circle cx="542.8" cy="435.4" r="5.35" fill="#00eaff"/><circle cx="552.9" cy="432.0" r="5.35" fill="#00d4ff"/><circle cx="551.6" cy="436.1" r="5.35" fill="#0095ff"/><circle cx="329.3" cy="433.2" r="5.35" fill="#00ffaa"/><circle cx="442.2" cy="474.2" r="5.35" fill="#00ff95"/><circle cx="448.7" cy="478.4" r="5.35" fill="#5d00ff"/><circle cx="451.4" cy="466.4" r="5.35" fill="#0000ff"/><circle cx="444.5" cy="450.2" r="5.35" fill="#1500ff"/><circle cx="451.4" cy="445.5" r="5.35" fill="#0095ff"/><circle cx="448.3" cy="451.7" r="5.35" fill="#00eaff"/><circle cx="449.1" cy="459.5" r="5.35" fill="#00ffff"/><circle cx="455.3" cy="452.5" r="5.35" fill="#00eaff"/><circle cx="463.0" cy="450.2" r="5.35" fill="#0055ff"/><circle cx="462.3" cy="465.7" r="5.35" fill="#0033ff"/><circle cx="466.9" cy="457.9" r="5.35" fill="#0080ff"/><circle cx="469.2" cy="455.6" r="5.35" fill="#0080ff"/><circle cx="473.1" cy="468.4" r="5.35" fill="#0095ff"/><circle cx="471.6" cy="449.0" r="5.35" fill="#00ffff"/><circle cx="480.9" cy="450.2" r="5.35" fill="#0040ff"/><circle cx="490.9" cy="447.9" r="5.35" fill="#0015ff"/><circle cx="490.1" cy="455.6" r="5.35" fill="#0055ff"/><circle cx="496.3" cy="451.7" r="5.35" fill="#00ffff"/><circle cx="503.3" cy="463.7" r="5.35" fill="#5d00ff"/><circle cx="512.2" cy="454.8" r="5.35" fill="#4c00ff"/><circle cx="472.0" cy="478.0" r="5.35" fill="#5500ff"/><circle cx="484.7" cy="478.8" r="5.35" fill="#0000ff"/><circle cx="687.7" cy="424.8" r="5.35" fill="#0033ff"/><circle cx="601.4" cy="434.8" r="5.35" fill="#0000ff"/><circle cx="575.9" cy="439.9" r="5.35" fill="#0040ff"/><circle cx="567.0" cy="447.2" r="5.35" fill="#0033ff"/><circle cx="573.9" cy="457.3" r="5.35" fill="#5d00ff"/><circle cx="582.1" cy="454.2" r="5.35" fill="#0008ff"/><circle cx="564.6" cy="469.7" r="5.35" fill="#002bff"/><circle cx="354.6" cy="445.4" r="5.35" fill="#00ff15"/><circle cx="361.3" cy="452.7" r="5.35" fill="#00ff00"/><circle cx="346.8" cy="457.9" r="5.35" fill="#6aff00"/><circle cx="353.8" cy="455.6" r="5.35" fill="#00ff2a"/><circle cx="333.4" cy="464.9" r="5.35" fill="#15ff00"/><circle cx="337.5" cy="464.9" r="5.35" fill="#80ff00"/><circle cx="345.0" cy="465.5" r="5.35" fill="#0080ff"/><circle cx="351.4" cy="464.9" r="5.35" fill="#ffff00"/><circle cx="341.0" cy="471.9" r="5.35" fill="#ffd000"/><circle cx="328.7" cy="474.3" r="5.35" fill="#f7ff00"/><circle cx="329.9" cy="479.5" r="5.35" fill="#ccff00"/><circle cx="354.9" cy="469.6" r="5.35" fill="#08ff00"/><circle cx="351.4" cy="477.2" r="5.35" fill="#80ff00"/><circle cx="344.5" cy="480.1" r="5.35" fill="#00ff6a"/><circle cx="338.6" cy="485.9" r="5.35" fill="#00ff00"/><circle cx="374.7" cy="448.6" r="5.35" fill="#00eaff"/><circle cx="378.8" cy="453.9" r="5.35" fill="#00ff2a"/><circle cx="370.7" cy="460.9" r="5.35" fill="#08ff00"/><circle cx="363.1" cy="463.8" r="5.35" fill="#00ffbf"/><circle cx="382.9" cy="462.6" r="5.35" fill="#08ff00"/><circle cx="387.5" cy="467.3" r="5.35" fill="#00ffaa"/><circle cx="375.9" cy="467.8" r="5.35" fill="#00ff15"/><circle cx="372.4" cy="470.2" r="5.35" fill="#00ff80"/><circle cx="366.6" cy="476.6" r="5.35" fill="#00ffff"/><circle cx="373.0" cy="477.7" r="5.35" fill="#00ff80"/><circle cx="362.5" cy="476.0" r="5.35" fill="#00ff15"/><circle cx="356.1" cy="482.4" r="5.35" fill="#00ffff"/><circle cx="360.2" cy="488.8" r="5.35" fill="#00eaff"/><circle cx="368.3" cy="487.6" r="5.35" fill="#00ff15"/><circle cx="378.2" cy="485.9" r="5.35" fill="#00bfff"/><circle cx="388.1" cy="476.6" r="5.35" fill="#006aff"/><circle cx="392.8" cy="481.2" r="5.35" fill="#00ffff"/><circle cx="398.0" cy="485.3" r="5.35" fill="#00ff00"/><circle cx="391.6" cy="456.8" r="5.35" fill="#0008ff"/><circle cx="397.4" cy="449.8" r="5.35" fill="#00ffff"/><circle cx="404.4" cy="444.6" r="5.35" fill="#00ff22"/><circle cx="407.3" cy="449.2" r="5.35" fill="#00ff80"/><circle cx="416.7" cy="448.6" r="5.35" fill="#15ff00"/><circle cx="423.1" cy="446.3" r="5.35" fill="#00ff15"/><circle cx="428.3" cy="455.0" r="5.35" fill="#00ff00"/><circle cx="404.4" cy="460.9" r="5.35" fill="#0080ff"/><circle cx="400.3" cy="466.1" r="5.35" fill="#0008ff"/><circle cx="407.3" cy="467.8" r="5.35" fill="#00ffff"/><circle cx="413.7" cy="461.4" r="5.35" fill="#0080ff"/><circle cx="420.7" cy="464.9" r="5.35" fill="#00ff80"/><circle cx="421.3" cy="459.1" r="5.35" fill="#00eaff"/><circle cx="405.0" cy="478.3" r="5.35" fill="#0015ff"/><circle cx="413.2" cy="479.5" r="5.35" fill="#00ff80"/><circle cx="419.0" cy="482.4" r="5.35" fill="#0080ff"/><circle cx="414.9" cy="487.1" r="5.35" fill="#0080ff"/><circle cx="423.6" cy="480.7" r="5.35" fill="#0095ff"/><circle cx="421.3" cy="471.9" r="5.35" fill="#5500ff"/><circle cx="428.9" cy="469.6" r="5.35" fill="#5d00ff"/><circle cx="431.8" cy="476.6" r="5.35" fill="#6a00ff"/><circle cx="433.5" cy="463.2" r="5.35" fill="#1500ff"/><circle cx="438.8" cy="456.2" r="5.35" fill="#0095ff"/><circle cx="438.2" cy="469.6" r="5.35" fill="#005eff"/><circle cx="434.7" cy="486.5" r="5.35" fill="#0000ff"/><circle cx="384.0" cy="495.2" r="5.35" fill="#1500ff"/><circle cx="326.4" cy="497.0" r="5.35" fill="#00ffbf"/><circle cx="345.0" cy="495.8" r="5.35" fill="#0040ff"/><circle cx="347.9" cy="502.2" r="5.35" fill="#00ffff"/><circle cx="339.2" cy="494.0" r="5.35" fill="#00ffff"/><circle cx="356.1" cy="498.7" r="5.35" fill="#004cff"/><circle cx="360.8" cy="497.0" r="5.35" fill="#5d00ff"/><circle cx="348.5" cy="490.0" r="5.35" fill="#0000ff"/><circle cx="356.1" cy="491.1" r="5.35" fill="#0055ff"/><circle cx="364.3" cy="491.1" r="5.35" fill="#00bfff"/><circle cx="311.7" cy="455.2" r="5.35" fill="#00eaff"/><circle cx="301.1" cy="465.9" r="5.35" fill="#ff0000"/><circle cx="292.1" cy="479.4" r="5.35" fill="#00ffff"/><circle cx="291.6" cy="473.7" r="5.35" fill="#15ff00"/><circle cx="301.6" cy="478.4" r="5.35" fill="#ff6e00"/><circle cx="316.7" cy="469.0" r="5.35" fill="#aaff00"/><circle cx="316.7" cy="475.6" r="5.35" fill="#08ff00"/><circle cx="321.5" cy="484.1" r="5.35" fill="#d4ff00"/><circle cx="321.9" cy="490.8" r="5.35" fill="#00ffff"/><circle cx="286.9" cy="485.1" r="5.35" fill="#fff700"/><circle cx="274.5" cy="486.0" r="5.35" fill="#80ff00"/><circle cx="276.4" cy="489.3" r="5.35" fill="#ffee00"/><circle cx="268.9" cy="492.7" r="5.35" fill="#00ff2a"/><circle cx="280.7" cy="491.2" r="5.35" fill="#00ff00"/><circle cx="292.5" cy="488.9" r="5.35" fill="#ff9900"/><circle cx="273.1" cy="495.0" r="5.35" fill="#ff0000"/><circle cx="282.1" cy="495.5" r="5.35" fill="#ff4d00"/><circle cx="304.9" cy="485.1" r="5.35" fill="#00ff15"/><circle cx="302.5" cy="486.0" r="5.35" fill="#ff0000"/><circle cx="301.1" cy="492.7" r="5.35" fill="#6aff00"/><circle cx="307.2" cy="491.7" r="5.35" fill="#fffb00"/><circle cx="312.9" cy="484.1" r="5.35" fill="#00ff15"/><circle cx="313.9" cy="490.8" r="5.35" fill="#08ff00"/><circle cx="300.6" cy="500.2" r="5.35" fill="#00ff2a"/><circle cx="311.5" cy="501.2" r="5.35" fill="#6aff00"/><circle cx="319.1" cy="501.7" r="5.35" fill="#0040ff"/><circle cx="295.4" cy="499.8" r="5.35" fill="#00aaff"/><circle cx="291.1" cy="501.2" r="5.35" fill="#ffd000"/><circle cx="263.2" cy="497.9" r="5.35" fill="#ff0000"/><circle cx="267.0" cy="496.4" r="5.35" fill="#ff0000"/><circle cx="281.2" cy="505.9" r="5.35" fill="#00ff00"/><circle cx="258.9" cy="501.2" r="5.35" fill="#6a00ff"/><circle cx="250.8" cy="505.5" r="5.35" fill="#ff0000"/><circle cx="260.3" cy="505.9" r="5.35" fill="#fffb00"/><circle cx="266.0" cy="509.2" r="5.35" fill="#ff7b00"/><circle cx="277.4" cy="511.6" r="5.35" fill="#ff0000"/><circle cx="255.1" cy="511.6" r="5.35" fill="#ffe500"/><circle cx="252.7" cy="515.4" r="5.35" fill="#15ff00"/><circle cx="270.7" cy="514.9" r="5.35" fill="#95ff00"/><circle cx="259.8" cy="515.9" r="5.35" fill="#ff0000"/><circle cx="1399.6" cy="73.5" r="5.35" fill="#ffff00"/><circle cx="1439.4" cy="96.5" r="5.35" fill="#ff0000"/><circle cx="1466.1" cy="110.4" r="5.35" fill="#95ff00"/><circle cx="1486.9" cy="113.3" r="5.35" fill="#aaff00"/><circle cx="1509.8" cy="125.7" r="5.35" fill="#ff9000"/><circle cx="1492.3" cy="144.4" r="5.35" fill="#ff0000"/><circle cx="1559.9" cy="83.9" r="5.35" fill="#fff700"/><circle cx="1504.3" cy="159.5" r="5.35" fill="#ff4000"/><circle cx="1504.3" cy="163.5" r="5.35" fill="#f7ff00"/><circle cx="1459.8" cy="162.4" r="5.35" fill="#bfff00"/><circle cx="1518.4" cy="164.3" r="5.35" fill="#f7ff00"/><circle cx="1487.3" cy="168.0" r="5.35" fill="#2aff00"/><circle cx="1495.5" cy="170.6" r="5.35" fill="#d4ff00"/><circle cx="1502.6" cy="177.4" r="5.35" fill="#fffb00"/><circle cx="1532.2" cy="178.4" r="5.35" fill="#00ff00"/><circle cx="1437.5" cy="179.0" r="5.35" fill="#ffe500"/><circle cx="1349.4" cy="188.4" r="5.35" fill="#ff4d00"/><circle cx="1340.8" cy="201.3" r="5.35" fill="#ffa600"/><circle cx="1339.2" cy="208.3" r="5.35" fill="#ff4000"/><circle cx="1409.5" cy="190.9" r="5.35" fill="#fffb00"/><circle cx="1405.3" cy="194.7" r="5.35" fill="#ff4d00"/><circle cx="1419.8" cy="192.8" r="5.35" fill="#ccff00"/><circle cx="1425.8" cy="197.9" r="5.35" fill="#ff1500"/><circle cx="1414.5" cy="197.5" r="5.35" fill="#ff4000"/><circle cx="1427.1" cy="204.2" r="5.35" fill="#ffdd00"/><circle cx="1441.3" cy="193.2" r="5.35" fill="#ff9900"/><circle cx="1440.9" cy="202.9" r="5.35" fill="#ff8800"/><circle cx="1457.6" cy="190.9" r="5.35" fill="#95ff00"/><circle cx="1474.9" cy="185.3" r="5.35" fill="#15ff00"/><circle cx="1483.1" cy="189.1" r="5.35" fill="#ff9000"/><circle cx="1502.6" cy="186.8" r="5.35" fill="#ffbb00"/><circle cx="1495.1" cy="193.2" r="5.35" fill="#ccff00"/><circle cx="1489.4" cy="200.0" r="5.35" fill="#ff6e00"/><circle cx="1486.3" cy="206.9" r="5.35" fill="#88ff00"/><circle cx="1463.4" cy="204.2" r="5.35" fill="#ffe500"/><circle cx="1440.9" cy="212.1" r="5.35" fill="#ffff00"/><circle cx="1440.9" cy="224.3" r="5.35" fill="#ff9900"/><circle cx="1414.5" cy="207.6" r="5.35" fill="#ff9000"/><circle cx="1417.7" cy="218.0" r="5.35" fill="#ff0d00"/><circle cx="1401.5" cy="210.5" r="5.35" fill="#ff4d00"/><circle cx="1392.1" cy="215.1" r="5.35" fill="#ff9000"/><circle cx="1381.1" cy="215.1" r="5.35" fill="#95ff00"/><circle cx="1385.3" cy="221.4" r="5.35" fill="#ff4000"/><circle cx="1384.3" cy="228.5" r="5.35" fill="#ff1500"/><circle cx="1352.4" cy="226.2" r="5.35" fill="#ff9900"/><circle cx="1366.7" cy="233.1" r="5.35" fill="#ffc300"/><circle cx="1396.9" cy="235.0" r="5.35" fill="#ffdd00"/><circle cx="1452.5" cy="233.1" r="5.35" fill="#aaff00"/><circle cx="1486.3" cy="218.4" r="5.35" fill="#ffff00"/><circle cx="1503.0" cy="210.7" r="5.35" fill="#77ff00"/><circle cx="1512.1" cy="216.8" r="5.35" fill="#2aff00"/><circle cx="1523.7" cy="190.9" r="5.35" fill="#ffd000"/><circle cx="1526.9" cy="194.1" r="5.35" fill="#2aff00"/><circle cx="1530.6" cy="203.2" r="5.35" fill="#40ff00"/><circle cx="1529.7" cy="209.8" r="5.35" fill="#fff700"/><circle cx="1529.1" cy="214.2" r="5.35" fill="#08ff00"/><circle cx="1531.6" cy="218.0" r="5.35" fill="#00ff00"/><circle cx="1544.4" cy="210.7" r="5.35" fill="#ffd000"/><circle cx="1552.0" cy="191.6" r="5.35" fill="#00ff6a"/><circle cx="1550.2" cy="199.8" r="5.35" fill="#ffff00"/><circle cx="1551.8" cy="226.8" r="5.35" fill="#ffff00"/><circle cx="1546.7" cy="225.2" r="5.35" fill="#95ff00"/><circle cx="1494.7" cy="231.9" r="5.35" fill="#15ff00"/><circle cx="1507.1" cy="231.9" r="5.35" fill="#6aff00"/><circle cx="1474.9" cy="235.0" r="5.35" fill="#15ff00"/><circle cx="1478.7" cy="237.5" r="5.35" fill="#6aff00"/><circle cx="1466.1" cy="240.7" r="5.35" fill="#00ff00"/><circle cx="1566.2" cy="236.3" r="5.35" fill="#15ff00"/><circle cx="1526.6" cy="235.0" r="5.35" fill="#2aff00"/><circle cx="1535.4" cy="233.8" r="5.35" fill="#08ff00"/><circle cx="1545.5" cy="237.5" r="5.35" fill="#00ff15"/><circle cx="1592.6" cy="76.6" r="5.35" fill="#bfff00"/><circle cx="1569.1" cy="114.1" r="5.35" fill="#ffe500"/><circle cx="1575.0" cy="133.7" r="5.35" fill="#f7ff00"/><circle cx="1584.5" cy="138.1" r="5.35" fill="#fff700"/><circle cx="1633.7" cy="120.2" r="5.35" fill="#2aff00"/><circle cx="1654.3" cy="135.2" r="5.35" fill="#aaff00"/><circle cx="1573.2" cy="188.4" r="5.35" fill="#2aff00"/><circle cx="1629.5" cy="186.5" r="5.35" fill="#15ff00"/><circle cx="1620.7" cy="193.5" r="5.35" fill="#15ff00"/><circle cx="1587.7" cy="213.9" r="5.35" fill="#00ff15"/><circle cx="1628.9" cy="216.8" r="5.35" fill="#00ff6a"/><circle cx="1598.3" cy="230.6" r="5.35" fill="#6aff00"/><circle cx="1580.0" cy="238.8" r="5.35" fill="#00ff00"/><circle cx="1477.8" cy="240.6" r="5.35" fill="#95ff00"/><circle cx="1510.5" cy="242.5" r="5.35" fill="#ccff00"/><circle cx="1521.8" cy="241.3" r="5.35" fill="#15ff00"/><circle cx="1543.2" cy="240.6" r="5.35" fill="#00ff15"/><circle cx="1460.8" cy="252.6" r="5.35" fill="#6aff00"/><circle cx="1500.4" cy="250.1" r="5.35" fill="#15ff00"/><circle cx="1507.4" cy="251.1" r="5.35" fill="#00ff55"/><circle cx="1518.1" cy="255.1" r="5.35" fill="#08ff00"/><circle cx="1542.0" cy="246.9" r="5.35" fill="#08ff00"/><circle cx="1613.5" cy="251.6" r="5.35" fill="#00ff55"/><circle cx="1471.5" cy="266.4" r="5.35" fill="#ffff00"/><circle cx="1475.3" cy="262.7" r="5.35" fill="#2aff00"/><circle cx="1477.4" cy="271.5" r="5.35" fill="#00ff6a"/><circle cx="1458.3" cy="268.7" r="5.35" fill="#08ff00"/><circle cx="1532.9" cy="276.1" r="5.35" fill="#15ff00"/><circle cx="1590.2" cy="268.3" r="5.35" fill="#00ff6a"/><circle cx="1591.5" cy="287.0" r="5.35" fill="#00ff6a"/><circle cx="1455.1" cy="284.3" r="5.35" fill="#00ff15"/><circle cx="1443.8" cy="285.3" r="5.35" fill="#bfff00"/><circle cx="1473.4" cy="281.6" r="5.35" fill="#00ff00"/><circle cx="1477.8" cy="287.8" r="5.35" fill="#00ff15"/><circle cx="1487.8" cy="287.2" r="5.35" fill="#15ff00"/><circle cx="1492.9" cy="284.7" r="5.35" fill="#00ff6a"/><circle cx="1483.4" cy="294.8" r="5.35" fill="#00ff55"/><circle cx="1447.6" cy="294.1" r="5.35" fill="#08ff00"/><circle cx="1462.0" cy="299.2" r="5.35" fill="#6aff00"/><circle cx="1470.8" cy="299.2" r="5.35" fill="#15ff00"/><circle cx="1478.4" cy="299.8" r="5.35" fill="#55ff00"/><circle cx="1447.6" cy="308.0" r="5.35" fill="#00ff15"/><circle cx="1513.0" cy="298.5" r="5.35" fill="#2aff00"/><circle cx="1518.1" cy="295.4" r="5.35" fill="#08ff00"/><circle cx="1517.4" cy="308.0" r="5.35" fill="#00ff95"/><circle cx="1555.8" cy="302.3" r="5.35" fill="#00ff6a"/><circle cx="1465.8" cy="313.0" r="5.35" fill="#00ff00"/><circle cx="1474.0" cy="312.4" r="5.35" fill="#00ffff"/><circle cx="1455.1" cy="318.1" r="5.35" fill="#00ffaa"/><circle cx="1447.6" cy="326.9" r="5.35" fill="#00ffff"/><circle cx="1460.8" cy="327.5" r="5.35" fill="#00ffaa"/><circle cx="1471.5" cy="321.8" r="5.35" fill="#00ff00"/><circle cx="1483.4" cy="324.4" r="5.35" fill="#00bfff"/><circle cx="1480.3" cy="332.5" r="5.35" fill="#00ff15"/><circle cx="1489.7" cy="332.5" r="5.35" fill="#00ff80"/><circle cx="1509.9" cy="317.1" r="5.35" fill="#55ff00"/><circle cx="1518.1" cy="327.3" r="5.35" fill="#08ff00"/><circle cx="1569.1" cy="333.4" r="5.35" fill="#00ff00"/><circle cx="1453.2" cy="352.7" r="5.35" fill="#15ff00"/><circle cx="1476.3" cy="356.8" r="5.35" fill="#00ff55"/><circle cx="1387.1" cy="246.9" r="5.35" fill="#ff0000"/><circle cx="1361.8" cy="250.1" r="5.35" fill="#ff7b00"/><circle cx="1343.3" cy="252.4" r="5.35" fill="#ff4d00"/><circle cx="1333.2" cy="261.2" r="5.35" fill="#ff9900"/><circle cx="1395.8" cy="259.3" r="5.35" fill="#ff2a00"/><circle cx="1387.1" cy="257.5" r="5.35" fill="#ff9000"/><circle cx="1387.1" cy="262.1" r="5.35" fill="#eaff00"/><circle cx="1400.2" cy="272.2" r="5.35" fill="#aaff00"/><circle cx="1439.6" cy="243.7" r="5.35" fill="#bfff00"/><circle cx="1306.0" cy="273.6" r="5.35" fill="#ff3300"/><circle cx="1364.1" cy="275.9" r="5.35" fill="#ffbb00"/><circle cx="1377.0" cy="278.7" r="5.35" fill="#ff8800"/><circle cx="1371.0" cy="281.4" r="5.35" fill="#00ff00"/><circle cx="1374.2" cy="289.3" r="5.35" fill="#6aff00"/><circle cx="1328.2" cy="283.3" r="5.35" fill="#ff0000"/><circle cx="1327.2" cy="288.8" r="5.35" fill="#ff0800"/><circle cx="1336.0" cy="285.1" r="5.35" fill="#ffa600"/><circle cx="1345.7" cy="291.1" r="5.35" fill="#ffe500"/><circle cx="1313.2" cy="292.5" r="5.35" fill="#ff0000"/><circle cx="1394.9" cy="294.8" r="5.35" fill="#ffe500"/><circle cx="1409.7" cy="293.9" r="5.35" fill="#d4ff00"/><circle cx="1439.1" cy="302.6" r="5.35" fill="#95ff00"/><circle cx="1330.0" cy="298.0" r="5.35" fill="#ff0800"/><circle cx="1328.9" cy="303.5" r="5.35" fill="#ff7b00"/><circle cx="1313.2" cy="303.5" r="5.35" fill="#ff9000"/><circle cx="1303.7" cy="318.7" r="5.35" fill="#fff700"/><circle cx="1315.7" cy="321.0" r="5.35" fill="#ff9900"/><circle cx="1323.5" cy="316.9" r="5.35" fill="#ffbb00"/><circle cx="1331.8" cy="316.0" r="5.35" fill="#ff0000"/><circle cx="1339.2" cy="314.6" r="5.35" fill="#80ff00"/><circle cx="1278.4" cy="321.0" r="5.35" fill="#ff0000"/><circle cx="1276.6" cy="329.3" r="5.35" fill="#ff0000"/><circle cx="1269.2" cy="341.3" r="5.35" fill="#ff0000"/><circle cx="1283.0" cy="337.6" r="5.35" fill="#ff4000"/><circle cx="1291.3" cy="337.6" r="5.35" fill="#ff2a00"/><circle cx="1291.3" cy="342.2" r="5.35" fill="#ff1500"/><circle cx="1277.5" cy="346.8" r="5.35" fill="#ff0000"/><circle cx="1276.6" cy="352.4" r="5.35" fill="#ffff00"/><circle cx="1352.1" cy="318.3" r="5.35" fill="#ddff00"/><circle cx="1347.5" cy="322.0" r="5.35" fill="#15ff00"/><circle cx="1339.2" cy="324.7" r="5.35" fill="#95ff00"/><circle cx="1346.6" cy="327.5" r="5.35" fill="#6aff00"/><circle cx="1355.8" cy="324.7" r="5.35" fill="#ffdd00"/><circle cx="1361.3" cy="311.8" r="5.35" fill="#eaff00"/><circle cx="1368.7" cy="310.9" r="5.35" fill="#eaff00"/><circle cx="1380.6" cy="311.8" r="5.35" fill="#f7ff00"/><circle cx="1379.7" cy="305.9" r="5.35" fill="#00ff00"/><circle cx="1388.9" cy="306.3" r="5.35" fill="#6aff00"/><circle cx="1401.8" cy="308.2" r="5.35" fill="#08ff00"/><circle cx="1420.3" cy="311.4" r="5.35" fill="#6aff00"/><circle cx="1367.8" cy="321.5" r="5.35" fill="#00ff6a"/><circle cx="1375.1" cy="321.0" r="5.35" fill="#80ff00"/><circle cx="1384.3" cy="319.7" r="5.35" fill="#15ff00"/><circle cx="1391.7" cy="317.4" r="5.35" fill="#00ff00"/><circle cx="1400.4" cy="316.4" r="5.35" fill="#00ff6a"/><circle cx="1411.0" cy="319.2" r="5.35" fill="#2aff00"/><circle cx="1420.3" cy="321.0" r="5.35" fill="#15ff00"/><circle cx="1433.1" cy="318.3" r="5.35" fill="#00ff00"/><circle cx="1439.6" cy="317.4" r="5.35" fill="#2aff00"/><circle cx="1437.7" cy="324.7" r="5.35" fill="#00ff6a"/><circle cx="1318.9" cy="332.6" r="5.35" fill="#ccff00"/><circle cx="1332.3" cy="332.6" r="5.35" fill="#88ff00"/><circle cx="1337.8" cy="338.5" r="5.35" fill="#ff9000"/><circle cx="1363.1" cy="331.6" r="5.35" fill="#00ff6a"/><circle cx="1373.3" cy="330.3" r="5.35" fill="#08ff00"/><circle cx="1377.9" cy="335.8" r="5.35" fill="#00ff00"/><circle cx="1388.9" cy="330.3" r="5.35" fill="#80ff00"/><circle cx="1395.4" cy="334.9" r="5.35" fill="#00ff6a"/><circle cx="1415.6" cy="329.8" r="5.35" fill="#55ff00"/><circle cx="1424.9" cy="328.4" r="5.35" fill="#00ff15"/><circle cx="1405.5" cy="339.5" r="5.35" fill="#55ff00"/><circle cx="1412.0" cy="339.5" r="5.35" fill="#00ff15"/><circle cx="1422.1" cy="337.6" r="5.35" fill="#00ff2a"/><circle cx="1437.7" cy="337.6" r="5.35" fill="#00ff55"/><circle cx="1431.3" cy="339.5" r="5.35" fill="#55ff00"/><circle cx="1345.7" cy="343.1" r="5.35" fill="#95ff00"/><circle cx="1354.9" cy="343.1" r="5.35" fill="#15ff00"/><circle cx="1356.7" cy="343.1" r="5.35" fill="#6aff00"/><circle cx="1313.4" cy="342.2" r="5.35" fill="#00ff15"/><circle cx="1311.6" cy="346.8" r="5.35" fill="#d4ff00"/><circle cx="1324.5" cy="346.8" r="5.35" fill="#ccff00"/><circle cx="1336.4" cy="349.1" r="5.35" fill="#08ff00"/><circle cx="1348.4" cy="354.2" r="5.35" fill="#00ff80"/><circle cx="1370.5" cy="347.8" r="5.35" fill="#08ff00"/><circle cx="1379.7" cy="341.3" r="5.35" fill="#55ff00"/><circle cx="1375.1" cy="351.9" r="5.35" fill="#00ffaa"/><circle cx="1401.8" cy="345.0" r="5.35" fill="#00ffea"/><circle cx="1403.7" cy="350.1" r="5.35" fill="#0080ff"/><circle cx="1425.8" cy="345.5" r="5.35" fill="#00ffff"/><circle cx="1432.7" cy="352.4" r="5.35" fill="#2aff00"/><circle cx="1387.1" cy="356.0" r="5.35" fill="#ff4d00"/><circle cx="1394.0" cy="358.8" r="5.35" fill="#00ff00"/><circle cx="1403.7" cy="362.5" r="5.35" fill="#00ff80"/><circle cx="1418.4" cy="356.0" r="5.35" fill="#00ff2a"/><circle cx="1419.3" cy="355.1" r="5.35" fill="#00ffff"/><circle cx="1298.7" cy="350.5" r="5.35" fill="#00ff15"/><circle cx="1286.7" cy="357.0" r="5.35" fill="#ffa600"/><circle cx="1296.4" cy="357.0" r="5.35" fill="#ffc300"/><circle cx="1304.2" cy="358.8" r="5.35" fill="#95ff00"/><circle cx="1307.9" cy="364.3" r="5.35" fill="#ffe500"/><circle cx="1324.5" cy="359.7" r="5.35" fill="#ccff00"/><circle cx="1334.6" cy="357.0" r="5.35" fill="#08ff00"/><circle cx="1344.7" cy="360.6" r="5.35" fill="#00ff55"/><circle cx="1337.4" cy="368.0" r="5.35" fill="#00ffbf"/><circle cx="1357.6" cy="360.6" r="5.35" fill="#15ff00"/><circle cx="1364.1" cy="359.7" r="5.35" fill="#00ffaa"/><circle cx="1368.7" cy="363.4" r="5.35" fill="#006aff"/><circle cx="1375.1" cy="362.5" r="5.35" fill="#00ff55"/><circle cx="1362.2" cy="366.2" r="5.35" fill="#80ff00"/><circle cx="1384.3" cy="370.8" r="5.35" fill="#00ff80"/><circle cx="1392.6" cy="373.5" r="5.35" fill="#00ffea"/><circle cx="1400.9" cy="368.9" r="5.35" fill="#00ff00"/><circle cx="1415.6" cy="370.8" r="5.35" fill="#00ffd4"/><circle cx="1353.9" cy="374.5" r="5.35" fill="#00ffff"/><circle cx="1315.3" cy="365.3" r="5.35" fill="#15ff00"/><circle cx="1322.6" cy="369.9" r="5.35" fill="#08ff00"/><circle cx="1265.5" cy="359.7" r="5.35" fill="#80ff00"/><circle cx="1271.1" cy="365.3" r="5.35" fill="#ffff00"/><circle cx="1261.8" cy="369.9" r="5.35" fill="#80ff00"/><circle cx="1277.5" cy="373.5" r="5.35" fill="#ff0000"/><circle cx="1286.7" cy="374.5" r="5.35" fill="#ff0000"/><circle cx="1312.5" cy="388.3" r="5.35" fill="#00ff00"/><circle cx="1324.5" cy="388.3" r="5.35" fill="#6aff00"/><circle cx="1343.3" cy="380.3" r="5.35" fill="#00ff00"/><circle cx="1359.5" cy="383.7" r="5.35" fill="#00ffbf"/><circle cx="1334.6" cy="393.8" r="5.35" fill="#00ff80"/><circle cx="1335.5" cy="398.9" r="5.35" fill="#0077ff"/><circle cx="1333.7" cy="404.9" r="5.35" fill="#08ff00"/><circle cx="1338.7" cy="406.2" r="5.35" fill="#00ffff"/><circle cx="1354.9" cy="393.8" r="5.35" fill="#00ff00"/><circle cx="1369.1" cy="395.6" r="5.35" fill="#00ff15"/><circle cx="1356.7" cy="401.6" r="5.35" fill="#00ffbf"/><circle cx="1357.6" cy="412.7" r="5.35" fill="#00ffbf"/><circle cx="1356.2" cy="417.3" r="5.35" fill="#00aaff"/><circle cx="1348.0" cy="418.7" r="5.35" fill="#00ff15"/><circle cx="1420.7" cy="384.1" r="5.35" fill="#00ff2a"/><circle cx="1423.9" cy="389.7" r="5.35" fill="#00bfff"/><circle cx="1429.5" cy="394.3" r="5.35" fill="#00ffbf"/><circle cx="1440.1" cy="390.6" r="5.35" fill="#00ffcc"/><circle cx="1416.6" cy="403.0" r="5.35" fill="#00ffff"/><circle cx="1391.7" cy="393.8" r="5.35" fill="#00ff80"/><circle cx="1389.9" cy="400.7" r="5.35" fill="#00d4ff"/><circle cx="1396.3" cy="397.9" r="5.35" fill="#00fff7"/><circle cx="1400.9" cy="398.4" r="5.35" fill="#00fff7"/><circle cx="1386.6" cy="408.5" r="5.35" fill="#00ffaa"/><circle cx="1398.1" cy="409.9" r="5.35" fill="#00ff95"/><circle cx="1310.2" cy="408.1" r="5.35" fill="#00ff15"/><circle cx="1301.9" cy="415.4" r="5.35" fill="#00ff2a"/><circle cx="1303.3" cy="429.7" r="5.35" fill="#00ffff"/><circle cx="1308.8" cy="442.6" r="5.35" fill="#5d00ff"/><circle cx="1274.7" cy="411.3" r="5.35" fill="#00ffbf"/><circle cx="1283.9" cy="414.5" r="5.35" fill="#15ff00"/><circle cx="1286.7" cy="407.2" r="5.35" fill="#ffff00"/><circle cx="1294.1" cy="409.5" r="5.35" fill="#6aff00"/><circle cx="1296.8" cy="399.3" r="5.35" fill="#ff0000"/><circle cx="1291.3" cy="397.9" r="5.35" fill="#80ff00"/><circle cx="1286.7" cy="395.2" r="5.35" fill="#15ff00"/><circle cx="1286.7" cy="379.5" r="5.35" fill="#ff0000"/><circle cx="1277.5" cy="392.9" r="5.35" fill="#08ff00"/><circle cx="1268.3" cy="386.9" r="5.35" fill="#ff9900"/><circle cx="1261.8" cy="379.5" r="5.35" fill="#ff0000"/><circle cx="1267.4" cy="397.9" r="5.35" fill="#6aff00"/><circle cx="1261.8" cy="401.6" r="5.35" fill="#d4ff00"/><circle cx="1275.7" cy="381.4" r="5.35" fill="#f7ff00"/><circle cx="1260.0" cy="415.4" r="5.35" fill="#ccff00"/><circle cx="1260.9" cy="435.2" r="5.35" fill="#00ff80"/><circle cx="1256.5" cy="347.0" r="5.35" fill="#ff0000"/><circle cx="1245.3" cy="360.2" r="5.35" fill="#ff0000"/><circle cx="1226.7" cy="376.4" r="5.35" fill="#ff0000"/><circle cx="1211.3" cy="383.4" r="5.35" fill="#ffdd00"/><circle cx="1209.7" cy="388.8" r="5.35" fill="#00ff77"/><circle cx="1231.8" cy="387.3" r="5.35" fill="#ff4d00"/><circle cx="1227.5" cy="391.1" r="5.35" fill="#ffff00"/><circle cx="1215.5" cy="400.0" r="5.35" fill="#ff0000"/><circle cx="1248.4" cy="395.8" r="5.35" fill="#ff0000"/><circle cx="1250.0" cy="404.3" r="5.35" fill="#ff0000"/><circle cx="1240.7" cy="393.5" r="5.35" fill="#80ff00"/><circle cx="1226.7" cy="402.0" r="5.35" fill="#d4ff00"/><circle cx="1232.9" cy="404.3" r="5.35" fill="#f7ff00"/><circle cx="1241.5" cy="402.0" r="5.35" fill="#ddff00"/><circle cx="1255.4" cy="399.7" r="5.35" fill="#ffff00"/><circle cx="1256.9" cy="391.9" r="5.35" fill="#80ff00"/><circle cx="1256.9" cy="366.4" r="5.35" fill="#ff4000"/><circle cx="1204.1" cy="410.8" r="5.35" fill="#ff4000"/><circle cx="1209.4" cy="412.6" r="5.35" fill="#ccff00"/><circle cx="1221.0" cy="411.4" r="5.35" fill="#ff0000"/><circle cx="1230.3" cy="414.3" r="5.35" fill="#ff9000"/><circle cx="1241.7" cy="415.2" r="5.35" fill="#ccff00"/><circle cx="1249.0" cy="413.7" r="5.35" fill="#ffbb00"/><circle cx="1257.7" cy="416.1" r="5.35" fill="#bfff00"/><circle cx="1250.1" cy="422.5" r="5.35" fill="#2aff00"/><circle cx="1232.1" cy="424.2" r="5.35" fill="#d4ff00"/><circle cx="1236.2" cy="427.1" r="5.35" fill="#fff700"/><circle cx="1233.8" cy="431.2" r="5.35" fill="#ff9000"/><circle cx="1243.2" cy="432.4" r="5.35" fill="#bfff00"/><circle cx="1236.2" cy="437.6" r="5.35" fill="#ff0000"/><circle cx="1236.2" cy="442.3" r="5.35" fill="#ff4d00"/><circle cx="1233.8" cy="446.9" r="5.35" fill="#80ff00"/><circle cx="1233.8" cy="453.3" r="5.35" fill="#00ff00"/><circle cx="1188.1" cy="419.0" r="5.35" fill="#ff9900"/><circle cx="1184.9" cy="424.2" r="5.35" fill="#ffff00"/><circle cx="1204.1" cy="422.5" r="5.35" fill="#ff4d00"/><circle cx="1222.2" cy="420.1" r="5.35" fill="#ff0000"/><circle cx="1212.9" cy="419.6" r="5.35" fill="#ffd000"/><circle cx="1211.7" cy="424.8" r="5.35" fill="#ff4000"/><circle cx="1227.4" cy="422.5" r="5.35" fill="#00ff15"/><circle cx="1178.8" cy="428.6" r="5.35" fill="#ff0000"/><circle cx="1193.1" cy="427.1" r="5.35" fill="#00ff00"/><circle cx="1197.2" cy="429.5" r="5.35" fill="#ff0000"/><circle cx="1190.2" cy="434.7" r="5.35" fill="#88ff00"/><circle cx="1210.6" cy="431.2" r="5.35" fill="#ffd000"/><circle cx="1208.8" cy="437.3" r="5.35" fill="#00ff6a"/><circle cx="1222.8" cy="432.9" r="5.35" fill="#ddff00"/><circle cx="1222.2" cy="438.2" r="5.35" fill="#00ff00"/><circle cx="1218.7" cy="441.1" r="5.35" fill="#80ff00"/><circle cx="1222.2" cy="444.6" r="5.35" fill="#fff700"/><circle cx="1219.9" cy="447.5" r="5.35" fill="#6aff00"/><circle cx="1177.9" cy="441.1" r="5.35" fill="#ff9000"/><circle cx="1186.1" cy="444.0" r="5.35" fill="#ffc300"/><circle cx="1198.9" cy="441.1" r="5.35" fill="#ffff00"/><circle cx="1197.7" cy="444.0" r="5.35" fill="#00ff00"/><circle cx="1208.2" cy="445.8" r="5.35" fill="#ffff00"/><circle cx="1193.1" cy="450.4" r="5.35" fill="#ff6600"/><circle cx="1216.4" cy="449.3" r="5.35" fill="#ffbb00"/><circle cx="1182.6" cy="451.6" r="5.35" fill="#00ff00"/><circle cx="1201.2" cy="451.6" r="5.35" fill="#fff700"/><circle cx="1207.6" cy="452.7" r="5.35" fill="#ffc300"/><circle cx="1217.0" cy="456.8" r="5.35" fill="#fffb00"/><circle cx="1177.4" cy="457.4" r="5.35" fill="#ff0000"/><circle cx="1200.1" cy="458.6" r="5.35" fill="#00ffea"/><circle cx="1189.6" cy="459.7" r="5.35" fill="#ffa600"/><circle cx="1186.1" cy="462.6" r="5.35" fill="#ffbb00"/><circle cx="1201.2" cy="462.1" r="5.35" fill="#80ff00"/><circle cx="1208.2" cy="467.9" r="5.35" fill="#ddff00"/><circle cx="1200.1" cy="466.1" r="5.35" fill="#ffd000"/><circle cx="1195.4" cy="465.6" r="5.35" fill="#ff0000"/><circle cx="1182.6" cy="469.6" r="5.35" fill="#00ff00"/><circle cx="1191.9" cy="470.2" r="5.35" fill="#ff6600"/><circle cx="1165.1" cy="447.5" r="5.35" fill="#ff4d00"/><circle cx="1158.7" cy="462.1" r="5.35" fill="#95ff00"/><circle cx="1172.1" cy="458.6" r="5.35" fill="#ffd000"/><circle cx="1166.3" cy="460.9" r="5.35" fill="#ffff00"/><circle cx="1175.0" cy="466.7" r="5.35" fill="#ff0000"/><circle cx="1162.2" cy="472.5" r="5.35" fill="#ff0000"/><circle cx="1168.6" cy="471.4" r="5.35" fill="#ff0000"/><circle cx="1153.5" cy="480.7" r="5.35" fill="#ff0000"/><circle cx="1176.2" cy="480.1" r="5.35" fill="#fff700"/><circle cx="1182.0" cy="481.3" r="5.35" fill="#ff0000"/><circle cx="1174.5" cy="485.9" r="5.35" fill="#ff0000"/><circle cx="1155.8" cy="490.6" r="5.35" fill="#ff0000"/><circle cx="1146.3" cy="495.2" r="5.35" fill="#6aff00"/><circle cx="1159.0" cy="498.7" r="5.35" fill="#ff4d00"/><circle cx="1149.2" cy="501.6" r="5.35" fill="#ff0000"/><circle cx="1176.2" cy="491.8" r="5.35" fill="#ff0000"/><circle cx="1139.4" cy="505.6" r="5.35" fill="#80ff00"/><circle cx="1133.1" cy="508.5" r="5.35" fill="#1500ff"/><circle cx="1149.2" cy="507.9" r="5.35" fill="#ffa600"/><circle cx="1149.7" cy="509.6" r="5.35" fill="#08ff00"/><circle cx="1153.2" cy="511.9" r="5.35" fill="#00ff00"/><circle cx="1142.3" cy="513.1" r="5.35" fill="#08ff00"/><circle cx="1131.9" cy="516.0" r="5.35" fill="#ff0000"/><circle cx="1138.2" cy="517.7" r="5.35" fill="#ffd000"/><circle cx="704.4" cy="846.0" r="5.35" fill="#00ff00"/><circle cx="575.0" cy="876.9" r="5.35" fill="#eaff00"/><circle cx="558.7" cy="887.6" r="5.35" fill="#eaff00"/><circle cx="509.2" cy="892.0" r="5.35" fill="#15ff00"/><circle cx="573.8" cy="921.1" r="5.35" fill="#ffbb00"/><circle cx="513.3" cy="925.4" r="5.35" fill="#95ff00"/><circle cx="519.5" cy="928.1" r="5.35" fill="#ffdd00"/><circle cx="510.4" cy="942.9" r="5.35" fill="#ffd000"/><circle cx="509.1" cy="939.1" r="5.35" fill="#6aff00"/><circle cx="528.2" cy="942.9" r="5.35" fill="#b2ff00"/><circle cx="565.7" cy="937.8" r="5.35" fill="#6aff00"/><circle cx="583.7" cy="954.8" r="5.35" fill="#08ff00"/><circle cx="487.9" cy="964.0" r="5.35" fill="#ff9900"/><circle cx="504.0" cy="966.4" r="5.35" fill="#ffe500"/><circle cx="481.2" cy="983.1" r="5.35" fill="#00ff6a"/><circle cx="485.4" cy="984.7" r="5.35" fill="#aaff00"/><circle cx="499.5" cy="994.0" r="5.35" fill="#15ff00"/><circle cx="504.2" cy="990.7" r="5.35" fill="#ff0000"/><circle cx="530.7" cy="991.1" r="5.35" fill="#ff0000"/><circle cx="534.0" cy="999.5" r="5.35" fill="#08ff00"/><circle cx="567.4" cy="983.8" r="5.35" fill="#00ff00"/><circle cx="449.4" cy="993.3" r="5.35" fill="#ffee00"/><circle cx="496.0" cy="1010.0" r="5.35" fill="#ff0000"/><circle cx="490.4" cy="1012.0" r="5.35" fill="#b2ff00"/><circle cx="469.3" cy="1022.5" r="5.35" fill="#15ff00"/><circle cx="453.8" cy="1030.3" r="5.35" fill="#2aff00"/><circle cx="461.8" cy="1034.9" r="5.35" fill="#95ff00"/><circle cx="503.4" cy="1033.9" r="5.35" fill="#88ff00"/><circle cx="436.8" cy="1036.0" r="5.35" fill="#ff9900"/><circle cx="429.0" cy="1048.0" r="5.35" fill="#ddff00"/><circle cx="440.1" cy="1047.5" r="5.35" fill="#ff0000"/><circle cx="456.6" cy="1048.0" r="5.35" fill="#ff4000"/><circle cx="489.8" cy="1044.3" r="5.35" fill="#d4ff00"/><circle cx="465.4" cy="1058.1" r="5.35" fill="#ffe500"/><circle cx="480.3" cy="1060.4" r="5.35" fill="#ffff00"/><circle cx="417.5" cy="1055.3" r="5.35" fill="#ff9900"/><circle cx="422.6" cy="1061.8" r="5.35" fill="#ffff00"/><circle cx="400.7" cy="1063.6" r="5.35" fill="#bfff00"/><circle cx="435.7" cy="1065.5" r="5.35" fill="#ccff00"/><circle cx="455.7" cy="1067.8" r="5.35" fill="#fff700"/><circle cx="459.9" cy="1073.7" r="5.35" fill="#ff8800"/><circle cx="453.4" cy="1071.4" r="5.35" fill="#00ff6a"/><circle cx="449.3" cy="1076.0" r="5.35" fill="#ddff00"/><circle cx="417.5" cy="1077.2" r="5.35" fill="#ffee00"/><circle cx="437.3" cy="1079.7" r="5.35" fill="#40ff00"/><circle cx="442.8" cy="1086.6" r="5.35" fill="#6aff00"/><circle cx="469.8" cy="1095.4" r="5.35" fill="#ddff00"/><circle cx="394.9" cy="1082.7" r="5.35" fill="#ff0000"/><circle cx="401.4" cy="1090.3" r="5.35" fill="#ff3300"/><circle cx="367.3" cy="1085.7" r="5.35" fill="#ff2a00"/><circle cx="360.4" cy="1094.0" r="5.35" fill="#ff7b00"/><circle cx="376.0" cy="1092.6" r="5.35" fill="#fffb00"/><circle cx="379.3" cy="1094.5" r="5.35" fill="#ffa600"/><circle cx="353.0" cy="1099.1" r="5.35" fill="#ff0000"/><circle cx="369.6" cy="1103.7" r="5.35" fill="#95ff00"/><circle cx="388.0" cy="1102.8" r="5.35" fill="#00ff00"/><circle cx="389.4" cy="1105.1" r="5.35" fill="#ff0000"/><circle cx="398.2" cy="1108.7" r="5.35" fill="#fffb00"/><circle cx="413.8" cy="1112.9" r="5.35" fill="#08ff00"/><circle cx="410.1" cy="1107.4" r="5.35" fill="#95ff00"/><circle cx="377.0" cy="1114.7" r="5.35" fill="#80ff00"/><circle cx="383.0" cy="1123.9" r="5.35" fill="#ff4000"/><circle cx="386.2" cy="1116.6" r="5.35" fill="#80ff00"/><circle cx="360.4" cy="1118.4" r="5.35" fill="#ff9000"/><circle cx="360.4" cy="1121.2" r="5.35" fill="#6aff00"/><circle cx="353.5" cy="1130.8" r="5.35" fill="#ff3300"/><circle cx="370.5" cy="1134.1" r="5.35" fill="#00ff00"/><circle cx="367.3" cy="1131.3" r="5.35" fill="#ccff00"/><circle cx="396.3" cy="1126.2" r="5.35" fill="#00ff77"/><circle cx="401.4" cy="1130.8" r="5.35" fill="#ff0000"/><circle cx="394.0" cy="1135.5" r="5.35" fill="#00ff00"/><circle cx="381.1" cy="1134.5" r="5.35" fill="#6aff00"/><circle cx="378.4" cy="1140.1" r="5.35" fill="#ffa600"/><circle cx="428.7" cy="1127.2" r="5.35" fill="#00ff00"/><circle cx="456.2" cy="1126.7" r="5.35" fill="#00ff00"/><circle cx="436.8" cy="1145.6" r="5.35" fill="#00ff80"/><circle cx="393.4" cy="1147.4" r="5.35" fill="#ff3300"/><circle cx="380.2" cy="1148.3" r="5.35" fill="#fffb00"/><circle cx="363.2" cy="1147.4" r="5.35" fill="#ff0000"/><circle cx="372.4" cy="1147.0" r="5.35" fill="#00ff00"/><circle cx="353.9" cy="1140.1" r="5.35" fill="#80ff00"/><circle cx="353.9" cy="1147.4" r="5.35" fill="#bfff00"/><circle cx="336.0" cy="1142.4" r="5.35" fill="#88ff00"/><circle cx="331.8" cy="1135.9" r="5.35" fill="#ffff00"/><circle cx="344.7" cy="1139.6" r="5.35" fill="#fffb00"/><circle cx="365.9" cy="1140.5" r="5.35" fill="#ffa600"/><circle cx="339.2" cy="1149.7" r="5.35" fill="#ff4000"/><circle cx="371.4" cy="1139.6" r="5.35" fill="#00ffff"/><circle cx="310.7" cy="1150.8" r="5.35" fill="#fff700"/><circle cx="339.4" cy="1151.2" r="5.35" fill="#ff4000"/><circle cx="351.7" cy="1152.3" r="5.35" fill="#ffd000"/><circle cx="363.4" cy="1150.4" r="5.35" fill="#ff0000"/><circle cx="372.6" cy="1150.8" r="5.35" fill="#00ff00"/><circle cx="380.4" cy="1150.4" r="5.35" fill="#ffe500"/><circle cx="393.5" cy="1150.8" r="5.35" fill="#ff0000"/><circle cx="345.6" cy="1157.0" r="5.35" fill="#ff0000"/><circle cx="358.7" cy="1154.6" r="5.35" fill="#00ff00"/><circle cx="365.7" cy="1158.5" r="5.35" fill="#95ff00"/><circle cx="369.6" cy="1161.6" r="5.35" fill="#ffd000"/><circle cx="361.8" cy="1164.7" r="5.35" fill="#ffff00"/><circle cx="376.5" cy="1167.8" r="5.35" fill="#00ffea"/><circle cx="383.5" cy="1161.6" r="5.35" fill="#ccff00"/><circle cx="381.2" cy="1169.3" r="5.35" fill="#00ff55"/><circle cx="399.0" cy="1157.7" r="5.35" fill="#15ff00"/><circle cx="395.1" cy="1158.5" r="5.35" fill="#ccff00"/><circle cx="400.5" cy="1166.3" r="5.35" fill="#08ff00"/><circle cx="371.1" cy="1177.9" r="5.35" fill="#80ff00"/><circle cx="368.8" cy="1184.8" r="5.35" fill="#08ff00"/><circle cx="337.0" cy="1158.5" r="5.35" fill="#ffd000"/><circle cx="324.7" cy="1160.8" r="5.35" fill="#ff9900"/><circle cx="298.3" cy="1163.5" r="5.35" fill="#ff2a00"/><circle cx="308.4" cy="1166.6" r="5.35" fill="#ff0000"/><circle cx="327.0" cy="1165.5" r="5.35" fill="#ff0000"/><circle cx="328.5" cy="1171.7" r="5.35" fill="#ff0000"/><circle cx="314.6" cy="1172.4" r="5.35" fill="#ffd000"/><circle cx="320.8" cy="1170.9" r="5.35" fill="#00ff00"/><circle cx="340.1" cy="1169.3" r="5.35" fill="#ffff00"/><circle cx="344.8" cy="1167.0" r="5.35" fill="#ffff00"/><circle cx="351.7" cy="1167.0" r="5.35" fill="#00ff00"/><circle cx="357.2" cy="1173.2" r="5.35" fill="#15ff00"/><circle cx="351.0" cy="1175.5" r="5.35" fill="#6aff00"/><circle cx="342.5" cy="1181.0" r="5.35" fill="#ffff00"/><circle cx="350.2" cy="1183.3" r="5.35" fill="#ff4000"/><circle cx="296.0" cy="1176.3" r="5.35" fill="#fffb00"/><circle cx="305.3" cy="1178.6" r="5.35" fill="#ff0000"/><circle cx="291.4" cy="1182.5" r="5.35" fill="#ff0000"/><circle cx="293.7" cy="1187.2" r="5.35" fill="#00ff80"/><circle cx="286.0" cy="1189.5" r="5.35" fill="#95ff00"/><circle cx="300.7" cy="1190.2" r="5.35" fill="#ff4000"/><circle cx="309.2" cy="1184.8" r="5.35" fill="#15ff00"/><circle cx="322.3" cy="1179.4" r="5.35" fill="#ff0000"/><circle cx="320.8" cy="1187.2" r="5.35" fill="#ff0000"/><circle cx="329.3" cy="1187.2" r="5.35" fill="#ff0000"/><circle cx="334.7" cy="1182.5" r="5.35" fill="#ff9000"/><circle cx="343.2" cy="1190.2" r="5.35" fill="#08ff00"/><circle cx="330.9" cy="1179.4" r="5.35" fill="#fff700"/><circle cx="289.1" cy="1195.7" r="5.35" fill="#ff0000"/><circle cx="281.3" cy="1196.4" r="5.35" fill="#ff0000"/><circle cx="275.1" cy="1204.2" r="5.35" fill="#fffb00"/><circle cx="282.1" cy="1205.7" r="5.35" fill="#ffd000"/><circle cx="295.2" cy="1197.2" r="5.35" fill="#ff9900"/><circle cx="309.2" cy="1198.8" r="5.35" fill="#ffe500"/><circle cx="314.6" cy="1194.1" r="5.35" fill="#80ff00"/><circle cx="323.1" cy="1198.8" r="5.35" fill="#ff0000"/><circle cx="337.0" cy="1197.2" r="5.35" fill="#ffee00"/><circle cx="329.3" cy="1204.2" r="5.35" fill="#ffff00"/><circle cx="302.2" cy="1206.5" r="5.35" fill="#006aff"/><circle cx="309.2" cy="1207.3" r="5.35" fill="#80ff00"/><circle cx="294.5" cy="1208.8" r="5.35" fill="#fff700"/><circle cx="321.6" cy="1205.7" r="5.35" fill="#00ff00"/><circle cx="284.4" cy="1213.5" r="5.35" fill="#ff4000"/><circle cx="269.7" cy="1213.5" r="5.35" fill="#ff0000"/><circle cx="275.9" cy="1216.6" r="5.35" fill="#80ff00"/><circle cx="283.6" cy="1220.4" r="5.35" fill="#95ff00"/><circle cx="292.2" cy="1214.2" r="5.35" fill="#ffd000"/><circle cx="301.4" cy="1214.2" r="5.35" fill="#00ff80"/><circle cx="305.3" cy="1216.6" r="5.35" fill="#ff9000"/><circle cx="312.3" cy="1214.2" r="5.35" fill="#ffd000"/><circle cx="320.0" cy="1213.5" r="5.35" fill="#ffc300"/><circle cx="273.6" cy="1222.0" r="5.35" fill="#ff4000"/><circle cx="279.0" cy="1226.6" r="5.35" fill="#fffb00"/><circle cx="289.8" cy="1224.3" r="5.35" fill="#ff0000"/><circle cx="294.5" cy="1217.3" r="5.35" fill="#ff0000"/><circle cx="1132.8" cy="1240.8" r="5.35" fill="#00bfff"/><circle cx="1131.5" cy="1250.9" r="5.35" fill="#ff0000"/><circle cx="1136.9" cy="1257.0" r="5.35" fill="#00ffff"/><circle cx="1143.0" cy="1237.4" r="5.35" fill="#ff9000"/><circle cx="1144.7" cy="1242.1" r="5.35" fill="#ffff00"/><circle cx="1150.4" cy="1234.0" r="5.35" fill="#08ff00"/><circle cx="1157.9" cy="1239.4" r="5.35" fill="#00ffaa"/><circle cx="1143.0" cy="1246.9" r="5.35" fill="#ff0000"/><circle cx="1151.8" cy="1249.6" r="5.35" fill="#6a00ff"/><circle cx="1139.6" cy="1255.0" r="5.35" fill="#00ff00"/><circle cx="1134.8" cy="1252.3" r="5.35" fill="#6a00ff"/><circle cx="1654.4" cy="1203.6" r="5.35" fill="#6200ff"/></g>
<rect x="386.50" y="112.40" width="237.50" height="257.40" fill="none" stroke="#707070" stroke-width="2.3"/>
<rect x="326.30" y="400.00" width="368.20" height="114.00" fill="none" stroke="#707070" stroke-width="2.3"/>
<rect x="1331.90" y="84.20" width="276.30" height="200.00" fill="none" stroke="#707070" stroke-width="2.3"/>
<rect x="1282.80" y="296.00" width="162.20" height="148.70" fill="none" stroke="#707070" stroke-width="2.3"/>
<rect x="1172.70" y="415.50" width="57.10" height="59.30" fill="none" stroke="#707070" stroke-width="2.3"/>
<rect x="1138.00" y="1221.50" width="31.50" height="32.50" fill="none" stroke="#707070" stroke-width="2.3"/></svg>
</body></html>
